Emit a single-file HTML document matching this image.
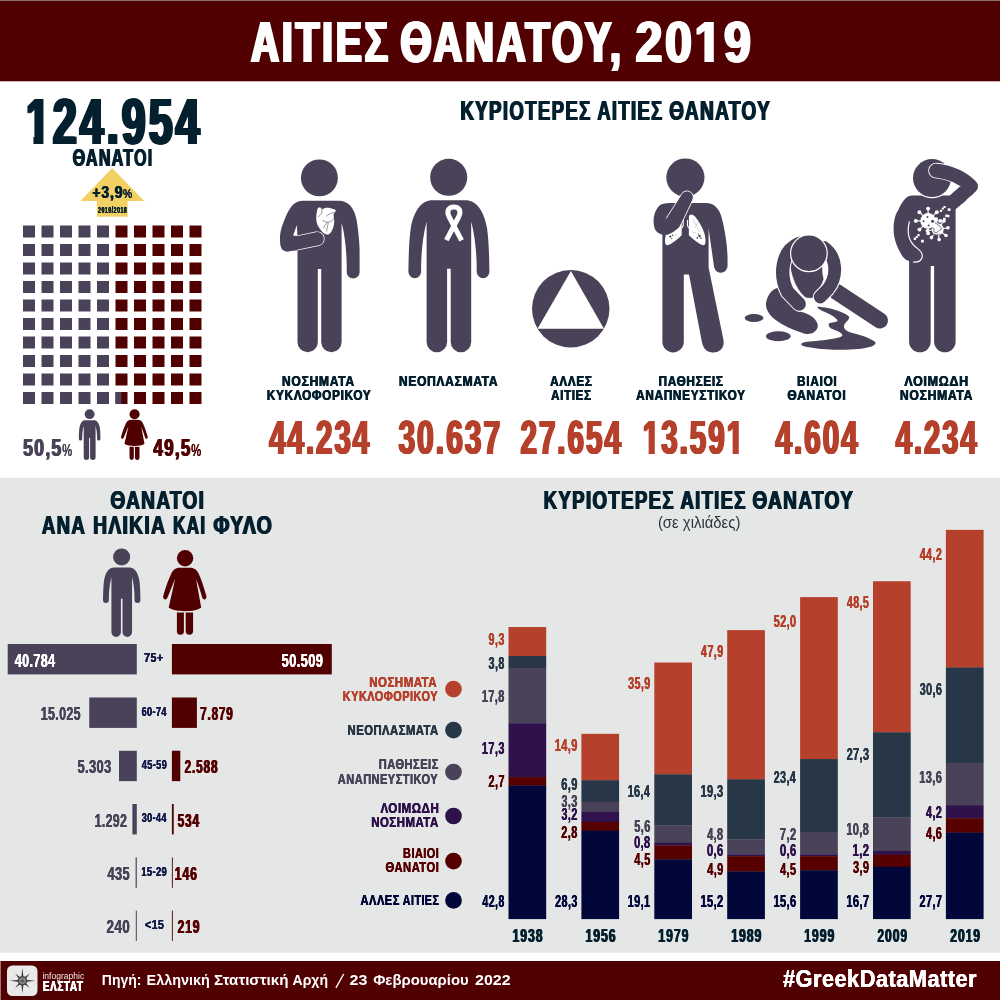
<!DOCTYPE html>
<html lang="el"><head><meta charset="utf-8"><title>ΑΙΤΙΕΣ ΘΑΝΑΤΟΥ, 2019</title>
<style>
html,body{margin:0;padding:0;background:#fff;}
body{width:1000px;height:1000px;overflow:hidden;font-family:"Liberation Sans",sans-serif;}
svg{display:block;font-family:"Liberation Sans",sans-serif;will-change:transform;}
</style></head><body>
<svg width="1000" height="1000" viewBox="0 0 1000 1000">
<rect x="0" y="0" width="1000" height="1000" fill="#fff"/>
<rect x="0" y="0" width="1000" height="81.3" fill="#500000"/>
<rect x="0" y="0" width="1000" height="1" fill="#8a6a6a"/>
<rect x="0" y="477.7" width="1000" height="475" fill="#e5e7e6"/>
<rect x="0" y="961" width="1000" height="39" fill="#500000"/>
<rect x="0" y="961" width="0.8" height="39" fill="#b59494"/>
<text transform="translate(249.62 61.60) scale(0.6877 1)" font-size="56.57" font-weight="bold" letter-spacing="4.113" fill="#fff">ΑΙΤΙΕΣ</text><text transform="translate(250.33 61.60) scale(0.6877 1)" font-size="56.57" font-weight="bold" letter-spacing="4.113" fill="#fff">ΑΙΤΙΕΣ</text><text transform="translate(251.04 61.60) scale(0.6877 1)" font-size="56.57" font-weight="bold" letter-spacing="4.113" fill="#fff">ΑΙΤΙΕΣ</text><text transform="translate(251.74 61.60) scale(0.6877 1)" font-size="56.57" font-weight="bold" letter-spacing="4.113" fill="#fff">ΑΙΤΙΕΣ</text><text transform="translate(252.45 61.60) scale(0.6877 1)" font-size="56.57" font-weight="bold" letter-spacing="4.113" fill="#fff">ΑΙΤΙΕΣ</text>
<text transform="translate(399.10 61.60) scale(0.7081 1)" font-size="56.57" font-weight="bold" letter-spacing="3.994" fill="#fff">ΘΑΝΑΤΟΥ,</text><text transform="translate(399.80 61.60) scale(0.7081 1)" font-size="56.57" font-weight="bold" letter-spacing="3.994" fill="#fff">ΘΑΝΑΤΟΥ,</text><text transform="translate(400.51 61.60) scale(0.7081 1)" font-size="56.57" font-weight="bold" letter-spacing="3.994" fill="#fff">ΘΑΝΑΤΟΥ,</text><text transform="translate(401.22 61.60) scale(0.7081 1)" font-size="56.57" font-weight="bold" letter-spacing="3.994" fill="#fff">ΘΑΝΑΤΟΥ,</text><text transform="translate(401.93 61.60) scale(0.7081 1)" font-size="56.57" font-weight="bold" letter-spacing="3.994" fill="#fff">ΘΑΝΑΤΟΥ,</text>
<text transform="translate(634.16 61.60) scale(0.8483 1)" font-size="56.57" font-weight="bold" letter-spacing="3.334" fill="#fff">2019</text><text transform="translate(634.87 61.60) scale(0.8483 1)" font-size="56.57" font-weight="bold" letter-spacing="3.334" fill="#fff">2019</text><text transform="translate(635.57 61.60) scale(0.8483 1)" font-size="56.57" font-weight="bold" letter-spacing="3.334" fill="#fff">2019</text><text transform="translate(636.28 61.60) scale(0.8483 1)" font-size="56.57" font-weight="bold" letter-spacing="3.334" fill="#fff">2019</text><text transform="translate(636.99 61.60) scale(0.8483 1)" font-size="56.57" font-weight="bold" letter-spacing="3.334" fill="#fff">2019</text>
<text transform="translate(459.79 119.60) scale(0.6939 1)" font-size="26.86" font-weight="bold" letter-spacing="1.935" fill="#04202f">ΚΥΡΙΟΤΕΡΕΣ</text><text transform="translate(460.46 119.60) scale(0.6939 1)" font-size="26.86" font-weight="bold" letter-spacing="1.935" fill="#04202f">ΚΥΡΙΟΤΕΡΕΣ</text><text transform="translate(461.13 119.60) scale(0.6939 1)" font-size="26.86" font-weight="bold" letter-spacing="1.935" fill="#04202f">ΚΥΡΙΟΤΕΡΕΣ</text>
<text transform="translate(596.63 119.60) scale(0.6807 1)" font-size="27.05" font-weight="bold" letter-spacing="1.987" fill="#04202f">ΑΙΤΙΕΣ</text><text transform="translate(597.31 119.60) scale(0.6807 1)" font-size="27.05" font-weight="bold" letter-spacing="1.987" fill="#04202f">ΑΙΤΙΕΣ</text><text transform="translate(597.98 119.60) scale(0.6807 1)" font-size="27.05" font-weight="bold" letter-spacing="1.987" fill="#04202f">ΑΙΤΙΕΣ</text>
<text transform="translate(668.43 119.60) scale(0.7125 1)" font-size="26.86" font-weight="bold" letter-spacing="1.885" fill="#04202f">ΘΑΝΑΤΟΥ</text><text transform="translate(669.11 119.60) scale(0.7125 1)" font-size="26.86" font-weight="bold" letter-spacing="1.885" fill="#04202f">ΘΑΝΑΤΟΥ</text><text transform="translate(669.78 119.60) scale(0.7125 1)" font-size="26.86" font-weight="bold" letter-spacing="1.885" fill="#04202f">ΘΑΝΑΤΟΥ</text>
<text transform="translate(24.45 144.00) scale(0.6466 1)" font-size="65.71" font-weight="bold" letter-spacing="5.081" fill="#04202f">124.954</text><text transform="translate(25.27 144.00) scale(0.6466 1)" font-size="65.71" font-weight="bold" letter-spacing="5.081" fill="#04202f">124.954</text><text transform="translate(26.09 144.00) scale(0.6466 1)" font-size="65.71" font-weight="bold" letter-spacing="5.081" fill="#04202f">124.954</text><text transform="translate(26.91 144.00) scale(0.6466 1)" font-size="65.71" font-weight="bold" letter-spacing="5.081" fill="#04202f">124.954</text><text transform="translate(27.74 144.00) scale(0.6466 1)" font-size="65.71" font-weight="bold" letter-spacing="5.081" fill="#04202f">124.954</text>
<text transform="translate(72.00 165.85) scale(0.6872 1)" font-size="23.57" font-weight="bold" letter-spacing="1.715" fill="#04202f">ΘΑΝΑΤΟΙ</text><text transform="translate(72.59 165.85) scale(0.6872 1)" font-size="23.57" font-weight="bold" letter-spacing="1.715" fill="#04202f">ΘΑΝΑΤΟΙ</text><text transform="translate(73.18 165.85) scale(0.6872 1)" font-size="23.57" font-weight="bold" letter-spacing="1.715" fill="#04202f">ΘΑΝΑΤΟΙ</text>
<path d="M112.25 168 L144.15 201 H127.65 V216.8 H96.85 V201 H80.35 Z" fill="#f3d063"/>
<text transform="translate(91.89 197.75) scale(0.8106 1)" font-size="17.29" font-weight="bold" letter-spacing="1.066" fill="#04202f">+3,9</text><text transform="translate(92.32 197.75) scale(0.8106 1)" font-size="17.29" font-weight="bold" letter-spacing="1.066" fill="#04202f">+3,9</text><text transform="translate(92.75 197.75) scale(0.8106 1)" font-size="17.29" font-weight="bold" letter-spacing="1.066" fill="#04202f">+3,9</text>
<text transform="translate(122.74 197.75) scale(0.8503 1)" font-size="12.07" letter-spacing="0.568" fill="#04202f">%</text><text transform="translate(122.98 197.75) scale(0.8503 1)" font-size="12.07" letter-spacing="0.568" fill="#04202f">%</text><text transform="translate(123.22 197.75) scale(0.8503 1)" font-size="12.07" letter-spacing="0.568" fill="#04202f">%</text>
<text transform="translate(97.79 213.15) scale(0.6226 1)" font-size="8.62" font-weight="bold" letter-spacing="0.692" fill="#04202f">2019/2018</text><text transform="translate(98.00 213.15) scale(0.6226 1)" font-size="8.62" font-weight="bold" letter-spacing="0.692" fill="#04202f">2019/2018</text><text transform="translate(98.22 213.15) scale(0.6226 1)" font-size="8.62" font-weight="bold" letter-spacing="0.692" fill="#04202f">2019/2018</text>
<rect x="23.0" y="225.5" width="12" height="12" fill="#4a4259"/>
<rect x="41.5" y="225.5" width="12" height="12" fill="#4a4259"/>
<rect x="60.0" y="225.5" width="12" height="12" fill="#4a4259"/>
<rect x="78.5" y="225.5" width="12" height="12" fill="#4a4259"/>
<rect x="97.0" y="225.5" width="12" height="12" fill="#4a4259"/>
<rect x="115.5" y="225.5" width="12" height="12" fill="#500000"/>
<rect x="134.0" y="225.5" width="12" height="12" fill="#500000"/>
<rect x="152.5" y="225.5" width="12" height="12" fill="#500000"/>
<rect x="171.0" y="225.5" width="12" height="12" fill="#500000"/>
<rect x="189.5" y="225.5" width="12" height="12" fill="#500000"/>
<rect x="23.0" y="244.0" width="12" height="12" fill="#4a4259"/>
<rect x="41.5" y="244.0" width="12" height="12" fill="#4a4259"/>
<rect x="60.0" y="244.0" width="12" height="12" fill="#4a4259"/>
<rect x="78.5" y="244.0" width="12" height="12" fill="#4a4259"/>
<rect x="97.0" y="244.0" width="12" height="12" fill="#4a4259"/>
<rect x="115.5" y="244.0" width="12" height="12" fill="#500000"/>
<rect x="134.0" y="244.0" width="12" height="12" fill="#500000"/>
<rect x="152.5" y="244.0" width="12" height="12" fill="#500000"/>
<rect x="171.0" y="244.0" width="12" height="12" fill="#500000"/>
<rect x="189.5" y="244.0" width="12" height="12" fill="#500000"/>
<rect x="23.0" y="262.5" width="12" height="12" fill="#4a4259"/>
<rect x="41.5" y="262.5" width="12" height="12" fill="#4a4259"/>
<rect x="60.0" y="262.5" width="12" height="12" fill="#4a4259"/>
<rect x="78.5" y="262.5" width="12" height="12" fill="#4a4259"/>
<rect x="97.0" y="262.5" width="12" height="12" fill="#4a4259"/>
<rect x="115.5" y="262.5" width="12" height="12" fill="#500000"/>
<rect x="134.0" y="262.5" width="12" height="12" fill="#500000"/>
<rect x="152.5" y="262.5" width="12" height="12" fill="#500000"/>
<rect x="171.0" y="262.5" width="12" height="12" fill="#500000"/>
<rect x="189.5" y="262.5" width="12" height="12" fill="#500000"/>
<rect x="23.0" y="281.0" width="12" height="12" fill="#4a4259"/>
<rect x="41.5" y="281.0" width="12" height="12" fill="#4a4259"/>
<rect x="60.0" y="281.0" width="12" height="12" fill="#4a4259"/>
<rect x="78.5" y="281.0" width="12" height="12" fill="#4a4259"/>
<rect x="97.0" y="281.0" width="12" height="12" fill="#4a4259"/>
<rect x="115.5" y="281.0" width="12" height="12" fill="#500000"/>
<rect x="134.0" y="281.0" width="12" height="12" fill="#500000"/>
<rect x="152.5" y="281.0" width="12" height="12" fill="#500000"/>
<rect x="171.0" y="281.0" width="12" height="12" fill="#500000"/>
<rect x="189.5" y="281.0" width="12" height="12" fill="#500000"/>
<rect x="23.0" y="299.5" width="12" height="12" fill="#4a4259"/>
<rect x="41.5" y="299.5" width="12" height="12" fill="#4a4259"/>
<rect x="60.0" y="299.5" width="12" height="12" fill="#4a4259"/>
<rect x="78.5" y="299.5" width="12" height="12" fill="#4a4259"/>
<rect x="97.0" y="299.5" width="12" height="12" fill="#4a4259"/>
<rect x="115.5" y="299.5" width="12" height="12" fill="#500000"/>
<rect x="134.0" y="299.5" width="12" height="12" fill="#500000"/>
<rect x="152.5" y="299.5" width="12" height="12" fill="#500000"/>
<rect x="171.0" y="299.5" width="12" height="12" fill="#500000"/>
<rect x="189.5" y="299.5" width="12" height="12" fill="#500000"/>
<rect x="23.0" y="318.0" width="12" height="12" fill="#4a4259"/>
<rect x="41.5" y="318.0" width="12" height="12" fill="#4a4259"/>
<rect x="60.0" y="318.0" width="12" height="12" fill="#4a4259"/>
<rect x="78.5" y="318.0" width="12" height="12" fill="#4a4259"/>
<rect x="97.0" y="318.0" width="12" height="12" fill="#4a4259"/>
<rect x="115.5" y="318.0" width="12" height="12" fill="#500000"/>
<rect x="134.0" y="318.0" width="12" height="12" fill="#500000"/>
<rect x="152.5" y="318.0" width="12" height="12" fill="#500000"/>
<rect x="171.0" y="318.0" width="12" height="12" fill="#500000"/>
<rect x="189.5" y="318.0" width="12" height="12" fill="#500000"/>
<rect x="23.0" y="336.5" width="12" height="12" fill="#4a4259"/>
<rect x="41.5" y="336.5" width="12" height="12" fill="#4a4259"/>
<rect x="60.0" y="336.5" width="12" height="12" fill="#4a4259"/>
<rect x="78.5" y="336.5" width="12" height="12" fill="#4a4259"/>
<rect x="97.0" y="336.5" width="12" height="12" fill="#4a4259"/>
<rect x="115.5" y="336.5" width="12" height="12" fill="#500000"/>
<rect x="134.0" y="336.5" width="12" height="12" fill="#500000"/>
<rect x="152.5" y="336.5" width="12" height="12" fill="#500000"/>
<rect x="171.0" y="336.5" width="12" height="12" fill="#500000"/>
<rect x="189.5" y="336.5" width="12" height="12" fill="#500000"/>
<rect x="23.0" y="355.0" width="12" height="12" fill="#4a4259"/>
<rect x="41.5" y="355.0" width="12" height="12" fill="#4a4259"/>
<rect x="60.0" y="355.0" width="12" height="12" fill="#4a4259"/>
<rect x="78.5" y="355.0" width="12" height="12" fill="#4a4259"/>
<rect x="97.0" y="355.0" width="12" height="12" fill="#4a4259"/>
<rect x="115.5" y="355.0" width="12" height="12" fill="#500000"/>
<rect x="134.0" y="355.0" width="12" height="12" fill="#500000"/>
<rect x="152.5" y="355.0" width="12" height="12" fill="#500000"/>
<rect x="171.0" y="355.0" width="12" height="12" fill="#500000"/>
<rect x="189.5" y="355.0" width="12" height="12" fill="#500000"/>
<rect x="23.0" y="373.5" width="12" height="12" fill="#4a4259"/>
<rect x="41.5" y="373.5" width="12" height="12" fill="#4a4259"/>
<rect x="60.0" y="373.5" width="12" height="12" fill="#4a4259"/>
<rect x="78.5" y="373.5" width="12" height="12" fill="#4a4259"/>
<rect x="97.0" y="373.5" width="12" height="12" fill="#4a4259"/>
<rect x="115.5" y="373.5" width="12" height="12" fill="#500000"/>
<rect x="134.0" y="373.5" width="12" height="12" fill="#500000"/>
<rect x="152.5" y="373.5" width="12" height="12" fill="#500000"/>
<rect x="171.0" y="373.5" width="12" height="12" fill="#500000"/>
<rect x="189.5" y="373.5" width="12" height="12" fill="#500000"/>
<rect x="23.0" y="392.0" width="12" height="12" fill="#4a4259"/>
<rect x="41.5" y="392.0" width="12" height="12" fill="#4a4259"/>
<rect x="60.0" y="392.0" width="12" height="12" fill="#4a4259"/>
<rect x="78.5" y="392.0" width="12" height="12" fill="#4a4259"/>
<rect x="97.0" y="392.0" width="12" height="12" fill="#4a4259"/>
<rect x="115.5" y="392.0" width="12" height="12" fill="#500000"/>
<rect x="134.0" y="392.0" width="12" height="12" fill="#500000"/>
<rect x="152.5" y="392.0" width="12" height="12" fill="#500000"/>
<rect x="171.0" y="392.0" width="12" height="12" fill="#500000"/>
<rect x="189.5" y="392.0" width="12" height="12" fill="#500000"/>
<rect x="115.5" y="392" width="5.8" height="12" fill="#4a4259"/>
<text transform="translate(22.47 456.00) scale(0.7329 1)" font-size="24.29" font-weight="bold" letter-spacing="1.657" fill="#4a4259">50,5</text><text transform="translate(23.07 456.00) scale(0.7329 1)" font-size="24.29" font-weight="bold" letter-spacing="1.657" fill="#4a4259">50,5</text><text transform="translate(23.68 456.00) scale(0.7329 1)" font-size="24.29" font-weight="bold" letter-spacing="1.657" fill="#4a4259">50,5</text>
<text transform="translate(61.91 456.00) scale(0.6474 1)" font-size="17.14" letter-spacing="0.927" fill="#4a4259">%</text><text transform="translate(62.21 456.00) scale(0.6474 1)" font-size="17.14" letter-spacing="0.927" fill="#4a4259">%</text><text transform="translate(62.51 456.00) scale(0.6474 1)" font-size="17.14" letter-spacing="0.927" fill="#4a4259">%</text>
<text transform="translate(152.74 456.00) scale(0.7055 1)" font-size="24.29" font-weight="bold" letter-spacing="1.721" fill="#500000">49,5</text><text transform="translate(153.35 456.00) scale(0.7055 1)" font-size="24.29" font-weight="bold" letter-spacing="1.721" fill="#500000">49,5</text><text transform="translate(153.96 456.00) scale(0.7055 1)" font-size="24.29" font-weight="bold" letter-spacing="1.721" fill="#500000">49,5</text>
<text transform="translate(190.91 456.00) scale(0.6474 1)" font-size="17.14" letter-spacing="0.927" fill="#500000">%</text><text transform="translate(191.21 456.00) scale(0.6474 1)" font-size="17.14" letter-spacing="0.927" fill="#500000">%</text><text transform="translate(191.51 456.00) scale(0.6474 1)" font-size="17.14" letter-spacing="0.927" fill="#500000">%</text>
<text transform="translate(281.61 386.00) scale(0.8295 1)" font-size="14.57" font-weight="bold" letter-spacing="0.878" fill="#04202f">ΝΟΣΗΜΑΤΑ</text><text transform="translate(281.98 386.00) scale(0.8295 1)" font-size="14.57" font-weight="bold" letter-spacing="0.878" fill="#04202f">ΝΟΣΗΜΑΤΑ</text><text transform="translate(282.34 386.00) scale(0.8295 1)" font-size="14.57" font-weight="bold" letter-spacing="0.878" fill="#04202f">ΝΟΣΗΜΑΤΑ</text>
<text transform="translate(266.44 400.30) scale(0.7979 1)" font-size="14.71" font-weight="bold" letter-spacing="0.922" fill="#04202f">ΚΥΚΛΟΦΟΡΙΚΟΥ</text><text transform="translate(266.80 400.30) scale(0.7979 1)" font-size="14.71" font-weight="bold" letter-spacing="0.922" fill="#04202f">ΚΥΚΛΟΦΟΡΙΚΟΥ</text><text transform="translate(267.17 400.30) scale(0.7979 1)" font-size="14.71" font-weight="bold" letter-spacing="0.922" fill="#04202f">ΚΥΚΛΟΦΟΡΙΚΟΥ</text>
<text transform="translate(398.52 386.00) scale(0.8246 1)" font-size="14.57" font-weight="bold" letter-spacing="0.884" fill="#04202f">ΝΕΟΠΛΑΣΜΑΤΑ</text><text transform="translate(398.88 386.00) scale(0.8246 1)" font-size="14.57" font-weight="bold" letter-spacing="0.884" fill="#04202f">ΝΕΟΠΛΑΣΜΑΤΑ</text><text transform="translate(399.25 386.00) scale(0.8246 1)" font-size="14.57" font-weight="bold" letter-spacing="0.884" fill="#04202f">ΝΕΟΠΛΑΣΜΑΤΑ</text>
<text transform="translate(549.77 386.00) scale(0.7916 1)" font-size="14.78" font-weight="bold" letter-spacing="0.934" fill="#04202f">ΑΛΛΕΣ</text><text transform="translate(550.14 386.00) scale(0.7916 1)" font-size="14.78" font-weight="bold" letter-spacing="0.934" fill="#04202f">ΑΛΛΕΣ</text><text transform="translate(550.51 386.00) scale(0.7916 1)" font-size="14.78" font-weight="bold" letter-spacing="0.934" fill="#04202f">ΑΛΛΕΣ</text>
<text transform="translate(550.77 400.30) scale(0.7725 1)" font-size="14.82" font-weight="bold" letter-spacing="0.959" fill="#04202f">ΑΙΤΙΕΣ</text><text transform="translate(551.14 400.30) scale(0.7725 1)" font-size="14.82" font-weight="bold" letter-spacing="0.959" fill="#04202f">ΑΙΤΙΕΣ</text><text transform="translate(551.51 400.30) scale(0.7725 1)" font-size="14.82" font-weight="bold" letter-spacing="0.959" fill="#04202f">ΑΙΤΙΕΣ</text>
<text transform="translate(658.24 386.00) scale(0.8037 1)" font-size="14.57" font-weight="bold" letter-spacing="0.907" fill="#04202f">ΠΑΘΗΣΕΙΣ</text><text transform="translate(658.60 386.00) scale(0.8037 1)" font-size="14.57" font-weight="bold" letter-spacing="0.907" fill="#04202f">ΠΑΘΗΣΕΙΣ</text><text transform="translate(658.97 386.00) scale(0.8037 1)" font-size="14.57" font-weight="bold" letter-spacing="0.907" fill="#04202f">ΠΑΘΗΣΕΙΣ</text>
<text transform="translate(635.76 400.30) scale(0.7987 1)" font-size="14.71" font-weight="bold" letter-spacing="0.921" fill="#04202f">ΑΝΑΠΝΕΥΣΤΙΚΟΥ</text><text transform="translate(636.13 400.30) scale(0.7987 1)" font-size="14.71" font-weight="bold" letter-spacing="0.921" fill="#04202f">ΑΝΑΠΝΕΥΣΤΙΚΟΥ</text><text transform="translate(636.50 400.30) scale(0.7987 1)" font-size="14.71" font-weight="bold" letter-spacing="0.921" fill="#04202f">ΑΝΑΠΝΕΥΣΤΙΚΟΥ</text>
<text transform="translate(796.63 386.00) scale(0.8117 1)" font-size="14.57" font-weight="bold" letter-spacing="0.898" fill="#04202f">ΒΙΑΙΟΙ</text><text transform="translate(797.00 386.00) scale(0.8117 1)" font-size="14.57" font-weight="bold" letter-spacing="0.898" fill="#04202f">ΒΙΑΙΟΙ</text><text transform="translate(797.36 386.00) scale(0.8117 1)" font-size="14.57" font-weight="bold" letter-spacing="0.898" fill="#04202f">ΒΙΑΙΟΙ</text>
<text transform="translate(786.92 400.30) scale(0.8185 1)" font-size="14.71" font-weight="bold" letter-spacing="0.899" fill="#04202f">ΘΑΝΑΤΟΙ</text><text transform="translate(787.29 400.30) scale(0.8185 1)" font-size="14.71" font-weight="bold" letter-spacing="0.899" fill="#04202f">ΘΑΝΑΤΟΙ</text><text transform="translate(787.65 400.30) scale(0.8185 1)" font-size="14.71" font-weight="bold" letter-spacing="0.899" fill="#04202f">ΘΑΝΑΤΟΙ</text>
<text transform="translate(903.94 386.00) scale(0.8572 1)" font-size="14.57" font-weight="bold" letter-spacing="0.850" fill="#04202f">ΛΟΙΜΩΔΗ</text><text transform="translate(904.30 386.00) scale(0.8572 1)" font-size="14.57" font-weight="bold" letter-spacing="0.850" fill="#04202f">ΛΟΙΜΩΔΗ</text><text transform="translate(904.67 386.00) scale(0.8572 1)" font-size="14.57" font-weight="bold" letter-spacing="0.850" fill="#04202f">ΛΟΙΜΩΔΗ</text>
<text transform="translate(899.61 400.30) scale(0.8245 1)" font-size="14.71" font-weight="bold" letter-spacing="0.892" fill="#04202f">ΝΟΣΗΜΑΤΑ</text><text transform="translate(899.98 400.30) scale(0.8245 1)" font-size="14.71" font-weight="bold" letter-spacing="0.892" fill="#04202f">ΝΟΣΗΜΑΤΑ</text><text transform="translate(900.35 400.30) scale(0.8245 1)" font-size="14.71" font-weight="bold" letter-spacing="0.892" fill="#04202f">ΝΟΣΗΜΑΤΑ</text>
<text transform="translate(268.16 453.90) scale(0.6150 1)" font-size="47.86" font-weight="bold" letter-spacing="3.268" fill="#b5402b">44.234</text><text transform="translate(268.66 453.90) scale(0.6150 1)" font-size="47.86" font-weight="bold" letter-spacing="3.268" fill="#b5402b">44.234</text><text transform="translate(269.16 453.90) scale(0.6150 1)" font-size="47.86" font-weight="bold" letter-spacing="3.268" fill="#b5402b">44.234</text><text transform="translate(269.67 453.90) scale(0.6150 1)" font-size="47.86" font-weight="bold" letter-spacing="3.268" fill="#b5402b">44.234</text><text transform="translate(270.17 453.90) scale(0.6150 1)" font-size="47.86" font-weight="bold" letter-spacing="3.268" fill="#b5402b">44.234</text>
<text transform="translate(397.40 453.90) scale(0.6270 1)" font-size="47.86" font-weight="bold" letter-spacing="3.206" fill="#b5402b">30.637</text><text transform="translate(397.90 453.90) scale(0.6270 1)" font-size="47.86" font-weight="bold" letter-spacing="3.206" fill="#b5402b">30.637</text><text transform="translate(398.40 453.90) scale(0.6270 1)" font-size="47.86" font-weight="bold" letter-spacing="3.206" fill="#b5402b">30.637</text><text transform="translate(398.91 453.90) scale(0.6270 1)" font-size="47.86" font-weight="bold" letter-spacing="3.206" fill="#b5402b">30.637</text><text transform="translate(399.41 453.90) scale(0.6270 1)" font-size="47.86" font-weight="bold" letter-spacing="3.206" fill="#b5402b">30.637</text>
<text transform="translate(519.41 453.90) scale(0.6187 1)" font-size="47.86" font-weight="bold" letter-spacing="3.249" fill="#b5402b">27.654</text><text transform="translate(519.91 453.90) scale(0.6187 1)" font-size="47.86" font-weight="bold" letter-spacing="3.249" fill="#b5402b">27.654</text><text transform="translate(520.42 453.90) scale(0.6187 1)" font-size="47.86" font-weight="bold" letter-spacing="3.249" fill="#b5402b">27.654</text><text transform="translate(520.92 453.90) scale(0.6187 1)" font-size="47.86" font-weight="bold" letter-spacing="3.249" fill="#b5402b">27.654</text><text transform="translate(521.42 453.90) scale(0.6187 1)" font-size="47.86" font-weight="bold" letter-spacing="3.249" fill="#b5402b">27.654</text>
<text transform="translate(641.73 453.90) scale(0.6175 1)" font-size="47.86" font-weight="bold" letter-spacing="3.255" fill="#b5402b">13.591</text><text transform="translate(642.23 453.90) scale(0.6175 1)" font-size="47.86" font-weight="bold" letter-spacing="3.255" fill="#b5402b">13.591</text><text transform="translate(642.73 453.90) scale(0.6175 1)" font-size="47.86" font-weight="bold" letter-spacing="3.255" fill="#b5402b">13.591</text><text transform="translate(643.23 453.90) scale(0.6175 1)" font-size="47.86" font-weight="bold" letter-spacing="3.255" fill="#b5402b">13.591</text><text transform="translate(643.74 453.90) scale(0.6175 1)" font-size="47.86" font-weight="bold" letter-spacing="3.255" fill="#b5402b">13.591</text>
<text transform="translate(774.56 453.90) scale(0.6181 1)" font-size="47.86" font-weight="bold" letter-spacing="3.252" fill="#b5402b">4.604</text><text transform="translate(775.06 453.90) scale(0.6181 1)" font-size="47.86" font-weight="bold" letter-spacing="3.252" fill="#b5402b">4.604</text><text transform="translate(775.56 453.90) scale(0.6181 1)" font-size="47.86" font-weight="bold" letter-spacing="3.252" fill="#b5402b">4.604</text><text transform="translate(776.06 453.90) scale(0.6181 1)" font-size="47.86" font-weight="bold" letter-spacing="3.252" fill="#b5402b">4.604</text><text transform="translate(776.57 453.90) scale(0.6181 1)" font-size="47.86" font-weight="bold" letter-spacing="3.252" fill="#b5402b">4.604</text>
<text transform="translate(894.76 453.90) scale(0.6081 1)" font-size="47.86" font-weight="bold" letter-spacing="3.306" fill="#b5402b">4.234</text><text transform="translate(895.27 453.90) scale(0.6081 1)" font-size="47.86" font-weight="bold" letter-spacing="3.306" fill="#b5402b">4.234</text><text transform="translate(895.77 453.90) scale(0.6081 1)" font-size="47.86" font-weight="bold" letter-spacing="3.306" fill="#b5402b">4.234</text><text transform="translate(896.27 453.90) scale(0.6081 1)" font-size="47.86" font-weight="bold" letter-spacing="3.306" fill="#b5402b">4.234</text><text transform="translate(896.77 453.90) scale(0.6081 1)" font-size="47.86" font-weight="bold" letter-spacing="3.306" fill="#b5402b">4.234</text>
<text transform="translate(109.83 509.40) scale(0.7580 1)" font-size="25.29" font-weight="bold" letter-spacing="1.668" fill="#04202f">ΘΑΝΑΤΟΙ</text><text transform="translate(110.47 509.40) scale(0.7580 1)" font-size="25.29" font-weight="bold" letter-spacing="1.668" fill="#04202f">ΘΑΝΑΤΟΙ</text><text transform="translate(111.10 509.40) scale(0.7580 1)" font-size="25.29" font-weight="bold" letter-spacing="1.668" fill="#04202f">ΘΑΝΑΤΟΙ</text>
<text transform="translate(41.33 534.10) scale(0.7316 1)" font-size="25.47" font-weight="bold" letter-spacing="1.741" fill="#04202f">ΑΝΑ</text><text transform="translate(41.96 534.10) scale(0.7316 1)" font-size="25.47" font-weight="bold" letter-spacing="1.741" fill="#04202f">ΑΝΑ</text><text transform="translate(42.60 534.10) scale(0.7316 1)" font-size="25.47" font-weight="bold" letter-spacing="1.741" fill="#04202f">ΑΝΑ</text>
<text transform="translate(92.44 534.10) scale(0.7594 1)" font-size="25.47" font-weight="bold" letter-spacing="1.677" fill="#04202f">ΗΛΙΚΙΑ</text><text transform="translate(93.08 534.10) scale(0.7594 1)" font-size="25.47" font-weight="bold" letter-spacing="1.677" fill="#04202f">ΗΛΙΚΙΑ</text><text transform="translate(93.72 534.10) scale(0.7594 1)" font-size="25.47" font-weight="bold" letter-spacing="1.677" fill="#04202f">ΗΛΙΚΙΑ</text>
<text transform="translate(172.38 534.10) scale(0.6743 1)" font-size="25.47" font-weight="bold" letter-spacing="1.888" fill="#04202f">ΚΑΙ</text><text transform="translate(173.02 534.10) scale(0.6743 1)" font-size="25.47" font-weight="bold" letter-spacing="1.888" fill="#04202f">ΚΑΙ</text><text transform="translate(173.66 534.10) scale(0.6743 1)" font-size="25.47" font-weight="bold" letter-spacing="1.888" fill="#04202f">ΚΑΙ</text>
<text transform="translate(212.71 534.10) scale(0.7773 1)" font-size="25.29" font-weight="bold" letter-spacing="1.627" fill="#04202f">ΦΥΛΟ</text><text transform="translate(213.34 534.10) scale(0.7773 1)" font-size="25.29" font-weight="bold" letter-spacing="1.627" fill="#04202f">ΦΥΛΟ</text><text transform="translate(213.97 534.10) scale(0.7773 1)" font-size="25.29" font-weight="bold" letter-spacing="1.627" fill="#04202f">ΦΥΛΟ</text>
<rect x="7.70" y="644" width="129.10" height="30.4" fill="#4a4259"/>
<rect x="171.9" y="644" width="159.90" height="30.4" fill="#500000"/>
<text transform="translate(143.76 662.30) scale(0.8992 1)" font-size="12.17" font-weight="bold" letter-spacing="0.406" fill="#14184a">75+</text><text transform="translate(143.94 662.30) scale(0.8992 1)" font-size="12.17" font-weight="bold" letter-spacing="0.406" fill="#14184a">75+</text><text transform="translate(144.13 662.30) scale(0.8992 1)" font-size="12.17" font-weight="bold" letter-spacing="0.406" fill="#14184a">75+</text>
<text transform="translate(14.51 666.70) scale(0.6819 1)" font-size="18.50" font-weight="bold" letter-spacing="0.543" fill="#fff">40.784</text><text transform="translate(14.70 666.70) scale(0.6819 1)" font-size="18.50" font-weight="bold" letter-spacing="0.543" fill="#fff">40.784</text><text transform="translate(14.88 666.70) scale(0.6819 1)" font-size="18.50" font-weight="bold" letter-spacing="0.543" fill="#fff">40.784</text>
<text transform="translate(281.41 666.70) scale(0.6987 1)" font-size="18.50" font-weight="bold" letter-spacing="0.530" fill="#fff">50.509</text><text transform="translate(281.60 666.70) scale(0.6987 1)" font-size="18.50" font-weight="bold" letter-spacing="0.530" fill="#fff">50.509</text><text transform="translate(281.78 666.70) scale(0.6987 1)" font-size="18.50" font-weight="bold" letter-spacing="0.530" fill="#fff">50.509</text>
<rect x="89.25" y="697.5" width="47.55" height="30.4" fill="#4a4259"/>
<rect x="171.9" y="697.5" width="25.00" height="30.4" fill="#500000"/>
<text transform="translate(141.43 715.80) scale(0.7618 1)" font-size="12.00" font-weight="bold" letter-spacing="0.473" fill="#14184a">60-74</text><text transform="translate(141.61 715.80) scale(0.7618 1)" font-size="12.00" font-weight="bold" letter-spacing="0.473" fill="#14184a">60-74</text><text transform="translate(141.79 715.80) scale(0.7618 1)" font-size="12.00" font-weight="bold" letter-spacing="0.473" fill="#14184a">60-74</text>
<text transform="translate(40.55 720.20) scale(0.6725 1)" font-size="18.50" font-weight="bold" letter-spacing="0.550" fill="#4a4259">15.025</text><text transform="translate(40.74 720.20) scale(0.6725 1)" font-size="18.50" font-weight="bold" letter-spacing="0.550" fill="#4a4259">15.025</text><text transform="translate(40.92 720.20) scale(0.6725 1)" font-size="18.50" font-weight="bold" letter-spacing="0.550" fill="#4a4259">15.025</text>
<text transform="translate(199.73 720.20) scale(0.6324 1)" font-size="18.50" font-weight="bold" letter-spacing="1.316" fill="#560000">7.879</text><text transform="translate(200.15 720.20) scale(0.6324 1)" font-size="18.50" font-weight="bold" letter-spacing="1.316" fill="#560000">7.879</text><text transform="translate(200.56 720.20) scale(0.6324 1)" font-size="18.50" font-weight="bold" letter-spacing="1.316" fill="#560000">7.879</text>
<rect x="119.00" y="750.75" width="17.80" height="30.4" fill="#4a4259"/>
<rect x="171.9" y="750.75" width="8.40" height="30.4" fill="#500000"/>
<text transform="translate(141.61 769.05) scale(0.7664 1)" font-size="12.00" font-weight="bold" letter-spacing="0.470" fill="#14184a">45-59</text><text transform="translate(141.79 769.05) scale(0.7664 1)" font-size="12.00" font-weight="bold" letter-spacing="0.470" fill="#14184a">45-59</text><text transform="translate(141.97 769.05) scale(0.7664 1)" font-size="12.00" font-weight="bold" letter-spacing="0.470" fill="#14184a">45-59</text>
<text transform="translate(77.31 773.45) scale(0.6978 1)" font-size="18.50" font-weight="bold" letter-spacing="0.530" fill="#4a4259">5.303</text><text transform="translate(77.50 773.45) scale(0.6978 1)" font-size="18.50" font-weight="bold" letter-spacing="0.530" fill="#4a4259">5.303</text><text transform="translate(77.68 773.45) scale(0.6978 1)" font-size="18.50" font-weight="bold" letter-spacing="0.530" fill="#4a4259">5.303</text>
<text transform="translate(184.14 773.45) scale(0.6416 1)" font-size="18.50" font-weight="bold" letter-spacing="1.297" fill="#560000">2.588</text><text transform="translate(184.56 773.45) scale(0.6416 1)" font-size="18.50" font-weight="bold" letter-spacing="1.297" fill="#560000">2.588</text><text transform="translate(184.98 773.45) scale(0.6416 1)" font-size="18.50" font-weight="bold" letter-spacing="1.297" fill="#560000">2.588</text>
<rect x="132.40" y="804" width="4.40" height="30.4" fill="#4a4259"/>
<rect x="171.9" y="804" width="1.80" height="30.4" fill="#500000"/>
<text transform="translate(141.57 822.30) scale(0.7573 1)" font-size="12.00" font-weight="bold" letter-spacing="0.475" fill="#14184a">30-44</text><text transform="translate(141.75 822.30) scale(0.7573 1)" font-size="12.00" font-weight="bold" letter-spacing="0.475" fill="#14184a">30-44</text><text transform="translate(141.93 822.30) scale(0.7573 1)" font-size="12.00" font-weight="bold" letter-spacing="0.475" fill="#14184a">30-44</text>
<text transform="translate(94.46 826.70) scale(0.6660 1)" font-size="18.50" font-weight="bold" letter-spacing="0.556" fill="#4a4259">1.292</text><text transform="translate(94.65 826.70) scale(0.6660 1)" font-size="18.50" font-weight="bold" letter-spacing="0.556" fill="#4a4259">1.292</text><text transform="translate(94.83 826.70) scale(0.6660 1)" font-size="18.50" font-weight="bold" letter-spacing="0.556" fill="#4a4259">1.292</text>
<text transform="translate(177.14 826.70) scale(0.6439 1)" font-size="18.50" font-weight="bold" letter-spacing="1.293" fill="#560000">534</text><text transform="translate(177.56 826.70) scale(0.6439 1)" font-size="18.50" font-weight="bold" letter-spacing="1.293" fill="#560000">534</text><text transform="translate(177.98 826.70) scale(0.6439 1)" font-size="18.50" font-weight="bold" letter-spacing="1.293" fill="#560000">534</text>
<rect x="135.60" y="857.4" width="1.20" height="30.4" fill="#4a4259"/>
<rect x="171.9" y="857.4" width="0.90" height="30.4" fill="#500000"/>
<text transform="translate(141.19 875.70) scale(0.7804 1)" font-size="12.00" font-weight="bold" letter-spacing="0.461" fill="#14184a">15-29</text><text transform="translate(141.37 875.70) scale(0.7804 1)" font-size="12.00" font-weight="bold" letter-spacing="0.461" fill="#14184a">15-29</text><text transform="translate(141.55 875.70) scale(0.7804 1)" font-size="12.00" font-weight="bold" letter-spacing="0.461" fill="#14184a">15-29</text>
<text transform="translate(107.31 880.10) scale(0.6939 1)" font-size="18.50" font-weight="bold" letter-spacing="0.533" fill="#4a4259">435</text><text transform="translate(107.49 880.10) scale(0.6939 1)" font-size="18.50" font-weight="bold" letter-spacing="0.533" fill="#4a4259">435</text><text transform="translate(107.68 880.10) scale(0.6939 1)" font-size="18.50" font-weight="bold" letter-spacing="0.533" fill="#4a4259">435</text>
<text transform="translate(174.26 880.10) scale(0.6705 1)" font-size="18.50" font-weight="bold" letter-spacing="1.242" fill="#560000">146</text><text transform="translate(174.67 880.10) scale(0.6705 1)" font-size="18.50" font-weight="bold" letter-spacing="1.242" fill="#560000">146</text><text transform="translate(175.09 880.10) scale(0.6705 1)" font-size="18.50" font-weight="bold" letter-spacing="1.242" fill="#560000">146</text>
<rect x="135.80" y="910.6" width="1.00" height="30.4" fill="#4a4259"/>
<rect x="171.9" y="910.6" width="0.90" height="30.4" fill="#500000"/>
<text transform="translate(144.82 928.90) scale(0.8795 1)" font-size="12.17" font-weight="bold" letter-spacing="0.415" fill="#14184a">&lt;15</text><text transform="translate(145.00 928.90) scale(0.8795 1)" font-size="12.17" font-weight="bold" letter-spacing="0.415" fill="#14184a">&lt;15</text><text transform="translate(145.19 928.90) scale(0.8795 1)" font-size="12.17" font-weight="bold" letter-spacing="0.415" fill="#14184a">&lt;15</text>
<text transform="translate(106.34 933.30) scale(0.7300 1)" font-size="18.50" font-weight="bold" letter-spacing="0.507" fill="#4a4259">240</text><text transform="translate(106.53 933.30) scale(0.7300 1)" font-size="18.50" font-weight="bold" letter-spacing="0.507" fill="#4a4259">240</text><text transform="translate(106.71 933.30) scale(0.7300 1)" font-size="18.50" font-weight="bold" letter-spacing="0.507" fill="#4a4259">240</text>
<text transform="translate(177.13 933.30) scale(0.6579 1)" font-size="18.50" font-weight="bold" letter-spacing="1.265" fill="#560000">219</text><text transform="translate(177.55 933.30) scale(0.6579 1)" font-size="18.50" font-weight="bold" letter-spacing="1.265" fill="#560000">219</text><text transform="translate(177.97 933.30) scale(0.6579 1)" font-size="18.50" font-weight="bold" letter-spacing="1.265" fill="#560000">219</text>
<text transform="translate(542.98 508.90) scale(0.7150 1)" font-size="26.14" font-weight="bold" letter-spacing="1.828" fill="#04202f">ΚΥΡΙΟΤΕΡΕΣ</text><text transform="translate(543.64 508.90) scale(0.7150 1)" font-size="26.14" font-weight="bold" letter-spacing="1.828" fill="#04202f">ΚΥΡΙΟΤΕΡΕΣ</text><text transform="translate(544.29 508.90) scale(0.7150 1)" font-size="26.14" font-weight="bold" letter-spacing="1.828" fill="#04202f">ΚΥΡΙΟΤΕΡΕΣ</text>
<text transform="translate(679.83 508.90) scale(0.7019 1)" font-size="26.33" font-weight="bold" letter-spacing="1.876" fill="#04202f">ΑΙΤΙΕΣ</text><text transform="translate(680.49 508.90) scale(0.7019 1)" font-size="26.33" font-weight="bold" letter-spacing="1.876" fill="#04202f">ΑΙΤΙΕΣ</text><text transform="translate(681.15 508.90) scale(0.7019 1)" font-size="26.33" font-weight="bold" letter-spacing="1.876" fill="#04202f">ΑΙΤΙΕΣ</text>
<text transform="translate(751.63 508.90) scale(0.7339 1)" font-size="26.14" font-weight="bold" letter-spacing="1.781" fill="#04202f">ΘΑΝΑΤΟΥ</text><text transform="translate(752.29 508.90) scale(0.7339 1)" font-size="26.14" font-weight="bold" letter-spacing="1.781" fill="#04202f">ΘΑΝΑΤΟΥ</text><text transform="translate(752.94 508.90) scale(0.7339 1)" font-size="26.14" font-weight="bold" letter-spacing="1.781" fill="#04202f">ΘΑΝΑΤΟΥ</text>
<text transform="translate(657.91 528.40) scale(0.8993 1)" font-size="16.58" fill="#2a3540">(σε χιλιάδες)</text>
<rect x="508.50" y="627.02" width="37.7" height="29.26" fill="#b5402b"/>
<rect x="508.50" y="655.98" width="37.7" height="12.13" fill="#283747"/>
<rect x="508.50" y="667.81" width="37.7" height="55.73" fill="#4a4259"/>
<rect x="508.50" y="723.24" width="37.7" height="54.17" fill="#2f124c"/>
<rect x="508.50" y="777.11" width="37.7" height="8.71" fill="#560000"/>
<rect x="508.50" y="785.52" width="37.7" height="133.58" fill="#02073a"/>
<text transform="translate(512.07 942.20) scale(0.6594 1)" font-size="18.57" font-weight="bold" letter-spacing="1.408" fill="#04202f">1938</text><text transform="translate(512.53 942.20) scale(0.6594 1)" font-size="18.57" font-weight="bold" letter-spacing="1.408" fill="#04202f">1938</text><text transform="translate(512.99 942.20) scale(0.6594 1)" font-size="18.57" font-weight="bold" letter-spacing="1.408" fill="#04202f">1938</text>
<text transform="translate(488.17 644.80) scale(0.6573 1)" font-size="16.71" font-weight="bold" letter-spacing="0.636" fill="#b5402b">9,3</text><text transform="translate(488.38 644.80) scale(0.6573 1)" font-size="16.71" font-weight="bold" letter-spacing="0.636" fill="#b5402b">9,3</text><text transform="translate(488.59 644.80) scale(0.6573 1)" font-size="16.71" font-weight="bold" letter-spacing="0.636" fill="#b5402b">9,3</text>
<text transform="translate(488.28 669.30) scale(0.6476 1)" font-size="16.71" font-weight="bold" letter-spacing="0.645" fill="#283747">3,8</text><text transform="translate(488.49 669.30) scale(0.6476 1)" font-size="16.71" font-weight="bold" letter-spacing="0.645" fill="#283747">3,8</text><text transform="translate(488.70 669.30) scale(0.6476 1)" font-size="16.71" font-weight="bold" letter-spacing="0.645" fill="#283747">3,8</text>
<text transform="translate(481.64 701.80) scale(0.6538 1)" font-size="16.71" font-weight="bold" letter-spacing="0.639" fill="#4a4259">17,8</text><text transform="translate(481.85 701.80) scale(0.6538 1)" font-size="16.71" font-weight="bold" letter-spacing="0.639" fill="#4a4259">17,8</text><text transform="translate(482.06 701.80) scale(0.6538 1)" font-size="16.71" font-weight="bold" letter-spacing="0.639" fill="#4a4259">17,8</text>
<text transform="translate(481.64 753.50) scale(0.6574 1)" font-size="16.71" font-weight="bold" letter-spacing="0.636" fill="#2f124c">17,3</text><text transform="translate(481.85 753.50) scale(0.6574 1)" font-size="16.71" font-weight="bold" letter-spacing="0.636" fill="#2f124c">17,3</text><text transform="translate(482.06 753.50) scale(0.6574 1)" font-size="16.71" font-weight="bold" letter-spacing="0.636" fill="#2f124c">17,3</text>
<text transform="translate(488.17 787.10) scale(0.6598 1)" font-size="16.71" font-weight="bold" letter-spacing="0.633" fill="#560000">2,7</text><text transform="translate(488.38 787.10) scale(0.6598 1)" font-size="16.71" font-weight="bold" letter-spacing="0.633" fill="#560000">2,7</text><text transform="translate(488.59 787.10) scale(0.6598 1)" font-size="16.71" font-weight="bold" letter-spacing="0.633" fill="#560000">2,7</text>
<text transform="translate(482.14 906.80) scale(0.6384 1)" font-size="16.71" font-weight="bold" letter-spacing="0.655" fill="#02073a">42,8</text><text transform="translate(482.35 906.80) scale(0.6384 1)" font-size="16.71" font-weight="bold" letter-spacing="0.655" fill="#02073a">42,8</text><text transform="translate(482.56 906.80) scale(0.6384 1)" font-size="16.71" font-weight="bold" letter-spacing="0.655" fill="#02073a">42,8</text>
<rect x="581.40" y="733.83" width="37.7" height="46.70" fill="#b5402b"/>
<rect x="581.40" y="780.23" width="37.7" height="21.79" fill="#283747"/>
<rect x="581.40" y="801.71" width="37.7" height="10.58" fill="#4a4259"/>
<rect x="581.40" y="811.99" width="37.7" height="10.26" fill="#2f124c"/>
<rect x="581.40" y="821.95" width="37.7" height="9.02" fill="#560000"/>
<rect x="581.40" y="830.67" width="37.7" height="88.43" fill="#02073a"/>
<text transform="translate(584.96 942.20) scale(0.6625 1)" font-size="18.57" font-weight="bold" letter-spacing="1.402" fill="#04202f">1956</text><text transform="translate(585.43 942.20) scale(0.6625 1)" font-size="18.57" font-weight="bold" letter-spacing="1.402" fill="#04202f">1956</text><text transform="translate(585.89 942.20) scale(0.6625 1)" font-size="18.57" font-weight="bold" letter-spacing="1.402" fill="#04202f">1956</text>
<text transform="translate(554.54 751.05) scale(0.6574 1)" font-size="16.71" font-weight="bold" letter-spacing="0.636" fill="#b5402b">14,9</text><text transform="translate(554.75 751.05) scale(0.6574 1)" font-size="16.71" font-weight="bold" letter-spacing="0.636" fill="#b5402b">14,9</text><text transform="translate(554.96 751.05) scale(0.6574 1)" font-size="16.71" font-weight="bold" letter-spacing="0.636" fill="#b5402b">14,9</text>
<text transform="translate(561.01 790.30) scale(0.6598 1)" font-size="16.71" font-weight="bold" letter-spacing="0.633" fill="#283747">6,9</text><text transform="translate(561.22 790.30) scale(0.6598 1)" font-size="16.71" font-weight="bold" letter-spacing="0.633" fill="#283747">6,9</text><text transform="translate(561.43 790.30) scale(0.6598 1)" font-size="16.71" font-weight="bold" letter-spacing="0.633" fill="#283747">6,9</text>
<text transform="translate(561.18 807.05) scale(0.6524 1)" font-size="16.71" font-weight="bold" letter-spacing="0.640" fill="#4a4259">3,3</text><text transform="translate(561.39 807.05) scale(0.6524 1)" font-size="16.71" font-weight="bold" letter-spacing="0.640" fill="#4a4259">3,3</text><text transform="translate(561.60 807.05) scale(0.6524 1)" font-size="16.71" font-weight="bold" letter-spacing="0.640" fill="#4a4259">3,3</text>
<text transform="translate(561.18 820.30) scale(0.6524 1)" font-size="16.71" font-weight="bold" letter-spacing="0.640" fill="#2f124c">3,2</text><text transform="translate(561.39 820.30) scale(0.6524 1)" font-size="16.71" font-weight="bold" letter-spacing="0.640" fill="#2f124c">3,2</text><text transform="translate(561.60 820.30) scale(0.6524 1)" font-size="16.71" font-weight="bold" letter-spacing="0.640" fill="#2f124c">3,2</text>
<text transform="translate(561.07 837.80) scale(0.6524 1)" font-size="16.71" font-weight="bold" letter-spacing="0.640" fill="#560000">2,8</text><text transform="translate(561.28 837.80) scale(0.6524 1)" font-size="16.71" font-weight="bold" letter-spacing="0.640" fill="#560000">2,8</text><text transform="translate(561.49 837.80) scale(0.6524 1)" font-size="16.71" font-weight="bold" letter-spacing="0.640" fill="#560000">2,8</text>
<text transform="translate(554.88 906.80) scale(0.6469 1)" font-size="16.71" font-weight="bold" letter-spacing="0.646" fill="#02073a">28,3</text><text transform="translate(555.08 906.80) scale(0.6469 1)" font-size="16.71" font-weight="bold" letter-spacing="0.646" fill="#02073a">28,3</text><text transform="translate(555.29 906.80) scale(0.6469 1)" font-size="16.71" font-weight="bold" letter-spacing="0.646" fill="#02073a">28,3</text>
<rect x="654.30" y="662.52" width="37.7" height="112.09" fill="#b5402b"/>
<rect x="654.30" y="774.31" width="37.7" height="51.37" fill="#283747"/>
<rect x="654.30" y="825.38" width="37.7" height="17.74" fill="#4a4259"/>
<rect x="654.30" y="842.82" width="37.7" height="2.79" fill="#2f124c"/>
<rect x="654.30" y="845.31" width="37.7" height="14.31" fill="#560000"/>
<rect x="654.30" y="859.32" width="37.7" height="59.78" fill="#02073a"/>
<text transform="translate(657.86 942.20) scale(0.6625 1)" font-size="18.57" font-weight="bold" letter-spacing="1.402" fill="#04202f">1979</text><text transform="translate(658.33 942.20) scale(0.6625 1)" font-size="18.57" font-weight="bold" letter-spacing="1.402" fill="#04202f">1979</text><text transform="translate(658.79 942.20) scale(0.6625 1)" font-size="18.57" font-weight="bold" letter-spacing="1.402" fill="#04202f">1979</text>
<text transform="translate(627.88 688.55) scale(0.6435 1)" font-size="16.71" font-weight="bold" letter-spacing="0.649" fill="#b5402b">35,9</text><text transform="translate(628.09 688.55) scale(0.6435 1)" font-size="16.71" font-weight="bold" letter-spacing="0.649" fill="#b5402b">35,9</text><text transform="translate(628.30 688.55) scale(0.6435 1)" font-size="16.71" font-weight="bold" letter-spacing="0.649" fill="#b5402b">35,9</text>
<text transform="translate(627.45 796.55) scale(0.6452 1)" font-size="16.71" font-weight="bold" letter-spacing="0.648" fill="#283747">16,4</text><text transform="translate(627.66 796.55) scale(0.6452 1)" font-size="16.71" font-weight="bold" letter-spacing="0.648" fill="#283747">16,4</text><text transform="translate(627.87 796.55) scale(0.6452 1)" font-size="16.71" font-weight="bold" letter-spacing="0.648" fill="#283747">16,4</text>
<text transform="translate(633.97 831.55) scale(0.6573 1)" font-size="16.71" font-weight="bold" letter-spacing="0.636" fill="#4a4259">5,6</text><text transform="translate(634.18 831.55) scale(0.6573 1)" font-size="16.71" font-weight="bold" letter-spacing="0.636" fill="#4a4259">5,6</text><text transform="translate(634.39 831.55) scale(0.6573 1)" font-size="16.71" font-weight="bold" letter-spacing="0.636" fill="#4a4259">5,6</text>
<text transform="translate(633.92 848.00) scale(0.6549 1)" font-size="16.71" font-weight="bold" letter-spacing="0.638" fill="#2f124c">0,8</text><text transform="translate(634.13 848.00) scale(0.6549 1)" font-size="16.71" font-weight="bold" letter-spacing="0.638" fill="#2f124c">0,8</text><text transform="translate(634.33 848.00) scale(0.6549 1)" font-size="16.71" font-weight="bold" letter-spacing="0.638" fill="#2f124c">0,8</text>
<text transform="translate(634.14 864.80) scale(0.6351 1)" font-size="16.96" font-weight="bold" letter-spacing="0.667" fill="#560000">4,5</text><text transform="translate(634.35 864.80) scale(0.6351 1)" font-size="16.96" font-weight="bold" letter-spacing="0.667" fill="#560000">4,5</text><text transform="translate(634.56 864.80) scale(0.6351 1)" font-size="16.96" font-weight="bold" letter-spacing="0.667" fill="#560000">4,5</text>
<text transform="translate(627.44 906.80) scale(0.6538 1)" font-size="16.71" font-weight="bold" letter-spacing="0.639" fill="#02073a">19,1</text><text transform="translate(627.65 906.80) scale(0.6538 1)" font-size="16.71" font-weight="bold" letter-spacing="0.639" fill="#02073a">19,1</text><text transform="translate(627.86 906.80) scale(0.6538 1)" font-size="16.71" font-weight="bold" letter-spacing="0.639" fill="#02073a">19,1</text>
<rect x="727.20" y="630.13" width="37.7" height="149.46" fill="#b5402b"/>
<rect x="727.20" y="779.29" width="37.7" height="60.40" fill="#283747"/>
<rect x="727.20" y="839.39" width="37.7" height="15.25" fill="#4a4259"/>
<rect x="727.20" y="854.34" width="37.7" height="2.17" fill="#2f124c"/>
<rect x="727.20" y="856.21" width="37.7" height="15.56" fill="#560000"/>
<rect x="727.20" y="871.47" width="37.7" height="47.63" fill="#02073a"/>
<text transform="translate(730.76 942.20) scale(0.6625 1)" font-size="18.57" font-weight="bold" letter-spacing="1.402" fill="#04202f">1989</text><text transform="translate(731.23 942.20) scale(0.6625 1)" font-size="18.57" font-weight="bold" letter-spacing="1.402" fill="#04202f">1989</text><text transform="translate(731.69 942.20) scale(0.6625 1)" font-size="18.57" font-weight="bold" letter-spacing="1.402" fill="#04202f">1989</text>
<text transform="translate(700.84 657.05) scale(0.6418 1)" font-size="16.71" font-weight="bold" letter-spacing="0.651" fill="#b5402b">47,9</text><text transform="translate(701.05 657.05) scale(0.6418 1)" font-size="16.71" font-weight="bold" letter-spacing="0.651" fill="#b5402b">47,9</text><text transform="translate(701.26 657.05) scale(0.6418 1)" font-size="16.71" font-weight="bold" letter-spacing="0.651" fill="#b5402b">47,9</text>
<text transform="translate(700.34 796.55) scale(0.6574 1)" font-size="16.71" font-weight="bold" letter-spacing="0.636" fill="#283747">19,3</text><text transform="translate(700.55 796.55) scale(0.6574 1)" font-size="16.71" font-weight="bold" letter-spacing="0.636" fill="#283747">19,3</text><text transform="translate(700.76 796.55) scale(0.6574 1)" font-size="16.71" font-weight="bold" letter-spacing="0.636" fill="#283747">19,3</text>
<text transform="translate(707.04 840.30) scale(0.6452 1)" font-size="16.71" font-weight="bold" letter-spacing="0.648" fill="#4a4259">4,8</text><text transform="translate(707.25 840.30) scale(0.6452 1)" font-size="16.71" font-weight="bold" letter-spacing="0.648" fill="#4a4259">4,8</text><text transform="translate(707.46 840.30) scale(0.6452 1)" font-size="16.71" font-weight="bold" letter-spacing="0.648" fill="#4a4259">4,8</text>
<text transform="translate(706.81 856.05) scale(0.6598 1)" font-size="16.71" font-weight="bold" letter-spacing="0.633" fill="#2f124c">0,6</text><text transform="translate(707.02 856.05) scale(0.6598 1)" font-size="16.71" font-weight="bold" letter-spacing="0.633" fill="#2f124c">0,6</text><text transform="translate(707.23 856.05) scale(0.6598 1)" font-size="16.71" font-weight="bold" letter-spacing="0.633" fill="#2f124c">0,6</text>
<text transform="translate(707.04 874.60) scale(0.6500 1)" font-size="16.71" font-weight="bold" letter-spacing="0.643" fill="#560000">4,9</text><text transform="translate(707.25 874.60) scale(0.6500 1)" font-size="16.71" font-weight="bold" letter-spacing="0.643" fill="#560000">4,9</text><text transform="translate(707.45 874.60) scale(0.6500 1)" font-size="16.71" font-weight="bold" letter-spacing="0.643" fill="#560000">4,9</text>
<text transform="translate(700.34 906.80) scale(0.6574 1)" font-size="16.71" font-weight="bold" letter-spacing="0.636" fill="#02073a">15,2</text><text transform="translate(700.55 906.80) scale(0.6574 1)" font-size="16.71" font-weight="bold" letter-spacing="0.636" fill="#02073a">15,2</text><text transform="translate(700.76 906.80) scale(0.6574 1)" font-size="16.71" font-weight="bold" letter-spacing="0.636" fill="#02073a">15,2</text>
<rect x="800.10" y="597.12" width="37.7" height="162.23" fill="#b5402b"/>
<rect x="800.10" y="759.05" width="37.7" height="73.17" fill="#283747"/>
<rect x="800.10" y="831.92" width="37.7" height="22.72" fill="#4a4259"/>
<rect x="800.10" y="854.34" width="37.7" height="2.17" fill="#2f124c"/>
<rect x="800.10" y="856.21" width="37.7" height="14.31" fill="#560000"/>
<rect x="800.10" y="870.22" width="37.7" height="48.88" fill="#02073a"/>
<text transform="translate(803.66 942.20) scale(0.6625 1)" font-size="18.57" font-weight="bold" letter-spacing="1.402" fill="#04202f">1999</text><text transform="translate(804.13 942.20) scale(0.6625 1)" font-size="18.57" font-weight="bold" letter-spacing="1.402" fill="#04202f">1999</text><text transform="translate(804.59 942.20) scale(0.6625 1)" font-size="18.57" font-weight="bold" letter-spacing="1.402" fill="#04202f">1999</text>
<text transform="translate(773.58 627.30) scale(0.6469 1)" font-size="16.71" font-weight="bold" letter-spacing="0.646" fill="#b5402b">52,0</text><text transform="translate(773.78 627.30) scale(0.6469 1)" font-size="16.71" font-weight="bold" letter-spacing="0.646" fill="#b5402b">52,0</text><text transform="translate(773.99 627.30) scale(0.6469 1)" font-size="16.71" font-weight="bold" letter-spacing="0.646" fill="#b5402b">52,0</text>
<text transform="translate(773.58 782.55) scale(0.6351 1)" font-size="16.71" font-weight="bold" letter-spacing="0.658" fill="#283747">23,4</text><text transform="translate(773.79 782.55) scale(0.6351 1)" font-size="16.71" font-weight="bold" letter-spacing="0.658" fill="#283747">23,4</text><text transform="translate(774.00 782.55) scale(0.6351 1)" font-size="16.71" font-weight="bold" letter-spacing="0.658" fill="#283747">23,4</text>
<text transform="translate(779.66 840.30) scale(0.6623 1)" font-size="16.71" font-weight="bold" letter-spacing="0.631" fill="#4a4259">7,2</text><text transform="translate(779.87 840.30) scale(0.6623 1)" font-size="16.71" font-weight="bold" letter-spacing="0.631" fill="#4a4259">7,2</text><text transform="translate(780.08 840.30) scale(0.6623 1)" font-size="16.71" font-weight="bold" letter-spacing="0.631" fill="#4a4259">7,2</text>
<text transform="translate(779.71 856.05) scale(0.6598 1)" font-size="16.71" font-weight="bold" letter-spacing="0.633" fill="#2f124c">0,6</text><text transform="translate(779.92 856.05) scale(0.6598 1)" font-size="16.71" font-weight="bold" letter-spacing="0.633" fill="#2f124c">0,6</text><text transform="translate(780.13 856.05) scale(0.6598 1)" font-size="16.71" font-weight="bold" letter-spacing="0.633" fill="#2f124c">0,6</text>
<text transform="translate(779.94 874.60) scale(0.6351 1)" font-size="16.96" font-weight="bold" letter-spacing="0.667" fill="#560000">4,5</text><text transform="translate(780.15 874.60) scale(0.6351 1)" font-size="16.96" font-weight="bold" letter-spacing="0.667" fill="#560000">4,5</text><text transform="translate(780.36 874.60) scale(0.6351 1)" font-size="16.96" font-weight="bold" letter-spacing="0.667" fill="#560000">4,5</text>
<text transform="translate(773.24 906.80) scale(0.6574 1)" font-size="16.71" font-weight="bold" letter-spacing="0.636" fill="#02073a">15,6</text><text transform="translate(773.45 906.80) scale(0.6574 1)" font-size="16.71" font-weight="bold" letter-spacing="0.636" fill="#02073a">15,6</text><text transform="translate(773.66 906.80) scale(0.6574 1)" font-size="16.71" font-weight="bold" letter-spacing="0.636" fill="#02073a">15,6</text>
<rect x="873.00" y="581.24" width="37.7" height="151.33" fill="#b5402b"/>
<rect x="873.00" y="732.27" width="37.7" height="85.31" fill="#283747"/>
<rect x="873.00" y="817.28" width="37.7" height="33.93" fill="#4a4259"/>
<rect x="873.00" y="850.91" width="37.7" height="4.04" fill="#2f124c"/>
<rect x="873.00" y="854.65" width="37.7" height="12.44" fill="#560000"/>
<rect x="873.00" y="866.80" width="37.7" height="52.30" fill="#02073a"/>
<text transform="translate(876.94 942.20) scale(0.6532 1)" font-size="18.57" font-weight="bold" letter-spacing="1.421" fill="#04202f">2009</text><text transform="translate(877.40 942.20) scale(0.6532 1)" font-size="18.57" font-weight="bold" letter-spacing="1.421" fill="#04202f">2009</text><text transform="translate(877.86 942.20) scale(0.6532 1)" font-size="18.57" font-weight="bold" letter-spacing="1.421" fill="#04202f">2009</text>
<text transform="translate(846.64 608.05) scale(0.6384 1)" font-size="16.71" font-weight="bold" letter-spacing="0.655" fill="#b5402b">48,5</text><text transform="translate(846.85 608.05) scale(0.6384 1)" font-size="16.71" font-weight="bold" letter-spacing="0.655" fill="#b5402b">48,5</text><text transform="translate(847.06 608.05) scale(0.6384 1)" font-size="16.71" font-weight="bold" letter-spacing="0.655" fill="#b5402b">48,5</text>
<text transform="translate(846.48 759.80) scale(0.6469 1)" font-size="16.71" font-weight="bold" letter-spacing="0.646" fill="#283747">27,3</text><text transform="translate(846.68 759.80) scale(0.6469 1)" font-size="16.71" font-weight="bold" letter-spacing="0.646" fill="#283747">27,3</text><text transform="translate(846.89 759.80) scale(0.6469 1)" font-size="16.71" font-weight="bold" letter-spacing="0.646" fill="#283747">27,3</text>
<text transform="translate(846.14 835.05) scale(0.6538 1)" font-size="16.71" font-weight="bold" letter-spacing="0.639" fill="#4a4259">10,8</text><text transform="translate(846.35 835.05) scale(0.6538 1)" font-size="16.71" font-weight="bold" letter-spacing="0.639" fill="#4a4259">10,8</text><text transform="translate(846.56 835.05) scale(0.6538 1)" font-size="16.71" font-weight="bold" letter-spacing="0.639" fill="#4a4259">10,8</text>
<text transform="translate(852.33 856.05) scale(0.6726 1)" font-size="16.71" font-weight="bold" letter-spacing="0.621" fill="#2f124c">1,2</text><text transform="translate(852.53 856.05) scale(0.6726 1)" font-size="16.71" font-weight="bold" letter-spacing="0.621" fill="#2f124c">1,2</text><text transform="translate(852.74 856.05) scale(0.6726 1)" font-size="16.71" font-weight="bold" letter-spacing="0.621" fill="#2f124c">1,2</text>
<text transform="translate(852.78 872.50) scale(0.6524 1)" font-size="16.71" font-weight="bold" letter-spacing="0.640" fill="#560000">3,9</text><text transform="translate(852.99 872.50) scale(0.6524 1)" font-size="16.71" font-weight="bold" letter-spacing="0.640" fill="#560000">3,9</text><text transform="translate(853.20 872.50) scale(0.6524 1)" font-size="16.71" font-weight="bold" letter-spacing="0.640" fill="#560000">3,9</text>
<text transform="translate(846.14 906.80) scale(0.6592 1)" font-size="16.71" font-weight="bold" letter-spacing="0.634" fill="#02073a">16,7</text><text transform="translate(846.35 906.80) scale(0.6592 1)" font-size="16.71" font-weight="bold" letter-spacing="0.634" fill="#02073a">16,7</text><text transform="translate(846.56 906.80) scale(0.6592 1)" font-size="16.71" font-weight="bold" letter-spacing="0.634" fill="#02073a">16,7</text>
<rect x="945.90" y="529.86" width="37.7" height="137.94" fill="#b5402b"/>
<rect x="945.90" y="667.50" width="37.7" height="95.59" fill="#283747"/>
<rect x="945.90" y="762.79" width="37.7" height="42.65" fill="#4a4259"/>
<rect x="945.90" y="805.14" width="37.7" height="13.38" fill="#2f124c"/>
<rect x="945.90" y="818.22" width="37.7" height="14.62" fill="#560000"/>
<rect x="945.90" y="832.54" width="37.7" height="86.56" fill="#02073a"/>
<text transform="translate(949.84 942.20) scale(0.6532 1)" font-size="18.57" font-weight="bold" letter-spacing="1.421" fill="#04202f">2019</text><text transform="translate(950.30 942.20) scale(0.6532 1)" font-size="18.57" font-weight="bold" letter-spacing="1.421" fill="#04202f">2019</text><text transform="translate(950.76 942.20) scale(0.6532 1)" font-size="18.57" font-weight="bold" letter-spacing="1.421" fill="#04202f">2019</text>
<text transform="translate(919.54 559.80) scale(0.6418 1)" font-size="16.71" font-weight="bold" letter-spacing="0.651" fill="#b5402b">44,2</text><text transform="translate(919.75 559.80) scale(0.6418 1)" font-size="16.71" font-weight="bold" letter-spacing="0.651" fill="#b5402b">44,2</text><text transform="translate(919.96 559.80) scale(0.6418 1)" font-size="16.71" font-weight="bold" letter-spacing="0.651" fill="#b5402b">44,2</text>
<text transform="translate(919.48 694.50) scale(0.6435 1)" font-size="16.71" font-weight="bold" letter-spacing="0.649" fill="#283747">30,6</text><text transform="translate(919.69 694.50) scale(0.6435 1)" font-size="16.71" font-weight="bold" letter-spacing="0.649" fill="#283747">30,6</text><text transform="translate(919.90 694.50) scale(0.6435 1)" font-size="16.71" font-weight="bold" letter-spacing="0.649" fill="#283747">30,6</text>
<text transform="translate(919.04 783.30) scale(0.6574 1)" font-size="16.71" font-weight="bold" letter-spacing="0.636" fill="#4a4259">13,6</text><text transform="translate(919.25 783.30) scale(0.6574 1)" font-size="16.71" font-weight="bold" letter-spacing="0.636" fill="#4a4259">13,6</text><text transform="translate(919.46 783.30) scale(0.6574 1)" font-size="16.71" font-weight="bold" letter-spacing="0.636" fill="#4a4259">13,6</text>
<text transform="translate(925.74 818.30) scale(0.6500 1)" font-size="16.71" font-weight="bold" letter-spacing="0.643" fill="#2f124c">4,2</text><text transform="translate(925.95 818.30) scale(0.6500 1)" font-size="16.71" font-weight="bold" letter-spacing="0.643" fill="#2f124c">4,2</text><text transform="translate(926.15 818.30) scale(0.6500 1)" font-size="16.71" font-weight="bold" letter-spacing="0.643" fill="#2f124c">4,2</text>
<text transform="translate(925.74 839.30) scale(0.6500 1)" font-size="16.71" font-weight="bold" letter-spacing="0.643" fill="#560000">4,6</text><text transform="translate(925.95 839.30) scale(0.6500 1)" font-size="16.71" font-weight="bold" letter-spacing="0.643" fill="#560000">4,6</text><text transform="translate(926.15 839.30) scale(0.6500 1)" font-size="16.71" font-weight="bold" letter-spacing="0.643" fill="#560000">4,6</text>
<text transform="translate(919.37 906.80) scale(0.6486 1)" font-size="16.71" font-weight="bold" letter-spacing="0.644" fill="#02073a">27,7</text><text transform="translate(919.58 906.80) scale(0.6486 1)" font-size="16.71" font-weight="bold" letter-spacing="0.644" fill="#02073a">27,7</text><text transform="translate(919.79 906.80) scale(0.6486 1)" font-size="16.71" font-weight="bold" letter-spacing="0.644" fill="#02073a">27,7</text>
<circle cx="453.5" cy="689.1" r="8.35" fill="#b5402b"/>
<text transform="translate(369.00 686.75) scale(0.8135 1)" font-size="14.14" font-weight="bold" letter-spacing="0.608" fill="#b5402b">ΝΟΣΗΜΑΤΑ</text><text transform="translate(369.25 686.75) scale(0.8135 1)" font-size="14.14" font-weight="bold" letter-spacing="0.608" fill="#b5402b">ΝΟΣΗΜΑΤΑ</text><text transform="translate(369.50 686.75) scale(0.8135 1)" font-size="14.14" font-weight="bold" letter-spacing="0.608" fill="#b5402b">ΝΟΣΗΜΑΤΑ</text>
<text transform="translate(342.49 701.00) scale(0.7750 1)" font-size="14.14" font-weight="bold" letter-spacing="0.639" fill="#b5402b">ΚΥΚΛΟΦΟΡΙΚΟΥ</text><text transform="translate(342.74 701.00) scale(0.7750 1)" font-size="14.14" font-weight="bold" letter-spacing="0.639" fill="#b5402b">ΚΥΚΛΟΦΟΡΙΚΟΥ</text><text transform="translate(342.98 701.00) scale(0.7750 1)" font-size="14.14" font-weight="bold" letter-spacing="0.639" fill="#b5402b">ΚΥΚΛΟΦΟΡΙΚΟΥ</text>
<circle cx="453.5" cy="730.2" r="8.35" fill="#283747"/>
<text transform="translate(347.27 734.75) scale(0.7976 1)" font-size="14.14" font-weight="bold" letter-spacing="0.621" fill="#283747">ΝΕΟΠΛΑΣΜΑΤΑ</text><text transform="translate(347.51 734.75) scale(0.7976 1)" font-size="14.14" font-weight="bold" letter-spacing="0.621" fill="#283747">ΝΕΟΠΛΑΣΜΑΤΑ</text><text transform="translate(347.76 734.75) scale(0.7976 1)" font-size="14.14" font-weight="bold" letter-spacing="0.621" fill="#283747">ΝΕΟΠΛΑΣΜΑΤΑ</text>
<circle cx="453.5" cy="772" r="8.35" fill="#4a4259"/>
<text transform="translate(378.48 769.25) scale(0.7849 1)" font-size="14.14" font-weight="bold" letter-spacing="0.631" fill="#4a4259">ΠΑΘΗΣΕΙΣ</text><text transform="translate(378.73 769.25) scale(0.7849 1)" font-size="14.14" font-weight="bold" letter-spacing="0.631" fill="#4a4259">ΠΑΘΗΣΕΙΣ</text><text transform="translate(378.97 769.25) scale(0.7849 1)" font-size="14.14" font-weight="bold" letter-spacing="0.631" fill="#4a4259">ΠΑΘΗΣΕΙΣ</text>
<text transform="translate(337.58 783.50) scale(0.7788 1)" font-size="14.14" font-weight="bold" letter-spacing="0.636" fill="#4a4259">ΑΝΑΠΝΕΥΣΤΙΚΟΥ</text><text transform="translate(337.83 783.50) scale(0.7788 1)" font-size="14.14" font-weight="bold" letter-spacing="0.636" fill="#4a4259">ΑΝΑΠΝΕΥΣΤΙΚΟΥ</text><text transform="translate(338.07 783.50) scale(0.7788 1)" font-size="14.14" font-weight="bold" letter-spacing="0.636" fill="#4a4259">ΑΝΑΠΝΕΥΣΤΙΚΟΥ</text>
<circle cx="453.5" cy="816" r="8.35" fill="#2f124c"/>
<text transform="translate(380.19 813.25) scale(0.8213 1)" font-size="14.14" font-weight="bold" letter-spacing="0.603" fill="#2f124c">ΛΟΙΜΩΔΗ</text><text transform="translate(380.44 813.25) scale(0.8213 1)" font-size="14.14" font-weight="bold" letter-spacing="0.603" fill="#2f124c">ΛΟΙΜΩΔΗ</text><text transform="translate(380.69 813.25) scale(0.8213 1)" font-size="14.14" font-weight="bold" letter-spacing="0.603" fill="#2f124c">ΛΟΙΜΩΔΗ</text>
<text transform="translate(370.96 827.20) scale(0.8103 1)" font-size="14.14" font-weight="bold" letter-spacing="0.611" fill="#2f124c">ΝΟΣΗΜΑΤΑ</text><text transform="translate(371.20 827.20) scale(0.8103 1)" font-size="14.14" font-weight="bold" letter-spacing="0.611" fill="#2f124c">ΝΟΣΗΜΑΤΑ</text><text transform="translate(371.45 827.20) scale(0.8103 1)" font-size="14.14" font-weight="bold" letter-spacing="0.611" fill="#2f124c">ΝΟΣΗΜΑΤΑ</text>
<circle cx="453.5" cy="861.1" r="8.35" fill="#560000"/>
<text transform="translate(402.79 858.25) scale(0.7687 1)" font-size="14.14" font-weight="bold" letter-spacing="0.644" fill="#560000">ΒΙΑΙΟΙ</text><text transform="translate(403.04 858.25) scale(0.7687 1)" font-size="14.14" font-weight="bold" letter-spacing="0.644" fill="#560000">ΒΙΑΙΟΙ</text><text transform="translate(403.29 858.25) scale(0.7687 1)" font-size="14.14" font-weight="bold" letter-spacing="0.644" fill="#560000">ΒΙΑΙΟΙ</text>
<text transform="translate(385.35 872.20) scale(0.7916 1)" font-size="14.14" font-weight="bold" letter-spacing="0.625" fill="#560000">ΘΑΝΑΤΟΙ</text><text transform="translate(385.60 872.20) scale(0.7916 1)" font-size="14.14" font-weight="bold" letter-spacing="0.625" fill="#560000">ΘΑΝΑΤΟΙ</text><text transform="translate(385.85 872.20) scale(0.7916 1)" font-size="14.14" font-weight="bold" letter-spacing="0.625" fill="#560000">ΘΑΝΑΤΟΙ</text>
<circle cx="453.5" cy="900.4" r="8.35" fill="#02073a"/>
<text transform="translate(360.28 905.20) scale(0.7727 1)" font-size="14.35" font-weight="bold" letter-spacing="0.650" fill="#02073a">ΑΛΛΕΣ</text><text transform="translate(360.53 905.20) scale(0.7727 1)" font-size="14.35" font-weight="bold" letter-spacing="0.650" fill="#02073a">ΑΛΛΕΣ</text><text transform="translate(360.78 905.20) scale(0.7727 1)" font-size="14.35" font-weight="bold" letter-spacing="0.650" fill="#02073a">ΑΛΛΕΣ</text>
<text transform="translate(402.54 905.20) scale(0.7461 1)" font-size="14.24" font-weight="bold" letter-spacing="0.668" fill="#02073a">ΑΙΤΙΕΣ</text><text transform="translate(402.79 905.20) scale(0.7461 1)" font-size="14.24" font-weight="bold" letter-spacing="0.668" fill="#02073a">ΑΙΤΙΕΣ</text><text transform="translate(403.04 905.20) scale(0.7461 1)" font-size="14.24" font-weight="bold" letter-spacing="0.668" fill="#02073a">ΑΙΤΙΕΣ</text>
<rect x="7" y="965.5" width="30.5" height="30.5" rx="5.5" fill="#e9e9e9"/>
<text transform="translate(42.45 978.50) scale(0.8597 1)" font-size="9.93" fill="#f3e6e6">infographic</text>
<text transform="translate(42.56 991.20) scale(0.7030 1)" font-size="13.96" font-weight="bold" letter-spacing="0.993" fill="#fff">ΕΛΣΤΑΤ</text><text transform="translate(42.91 991.20) scale(0.7030 1)" font-size="13.96" font-weight="bold" letter-spacing="0.993" fill="#fff">ΕΛΣΤΑΤ</text><text transform="translate(43.26 991.20) scale(0.7030 1)" font-size="13.96" font-weight="bold" letter-spacing="0.993" fill="#fff">ΕΛΣΤΑΤ</text>
<text transform="translate(101.79 985.00) scale(0.9101 1)" font-size="15.36" font-weight="bold" fill="#fff">Πηγή:</text>
<text transform="translate(146.56 985.00) scale(0.9383 1)" font-size="15.36" font-weight="bold" fill="#fff">Ελληνική</text>
<text transform="translate(213.89 985.00) scale(0.9880 1)" font-size="15.36" font-weight="bold" fill="#fff">Στατιστική</text>
<text transform="translate(292.52 985.00) scale(0.9153 1)" font-size="15.36" font-weight="bold" fill="#fff">Αρχή</text>
<text transform="translate(349.52 985.00) scale(1.0453 1)" font-size="15.36" font-weight="bold" fill="#fff">23</text>
<text transform="translate(373.15 985.00) scale(0.9691 1)" font-size="15.36" font-weight="bold" fill="#fff">Φεβρουαρίου</text>
<text transform="translate(475.02 985.00) scale(1.0404 1)" font-size="15.36" font-weight="bold" fill="#fff">2022</text>
<path d="M335.9 987.9 L343.7 974" stroke="#fff" stroke-width="1.4"/>
<text transform="translate(782.67 987.40) scale(0.9312 1)" font-size="23.43" font-weight="bold" letter-spacing="0.503" fill="#fff">#GreekDataMatter</text><text transform="translate(782.91 987.40) scale(0.9312 1)" font-size="23.43" font-weight="bold" letter-spacing="0.503" fill="#fff">#GreekDataMatter</text><text transform="translate(783.14 987.40) scale(0.9312 1)" font-size="23.43" font-weight="bold" letter-spacing="0.503" fill="#fff">#GreekDataMatter</text>
<circle cx="448.7" cy="177.3" r="18.55" fill="#4a4259"/><path d="M432.4 200.2 H465.4 C475.9 200.2 483.9 210 487.09999999999997 228.4 C488.7 240 489.2 255 489.4 271.8 a6.35 6.35 0 0 1 -12.7 0 C476.79999999999995 255 475.4 238 471.2 221.4 V342.05 a10.25 10.25 0 0 1 -20.50 0 V268.75 H447.09999999999997 V342.05 a10.25 10.25 0 0 1 -20.50 0 V221.4 C422.4 238 421.0 255 421.09999999999997 271.8 a6.35 6.35 0 0 1 -12.7 0 C408.59999999999997 255 409.09999999999997 240 410.7 228.4 C413.9 210 421.9 200.2 432.4 200.2 Z" fill="#4a4259"/><path d="M446.4 240.2 L458.6 217 C461.8 210.5 458.8 207 453.9 207 C449 207 446 210.5 449.2 217 L461.6 240.4" fill="none" stroke="#fff" stroke-width="5" stroke-linejoin="round"/>
<g transform="translate(-85.803 475.885) scale(0.4623 0.4571)"><circle cx="448.7" cy="177.3" r="18.55" fill="#4a4259"/><path d="M432.4 200.2 H465.4 C475.9 200.2 483.9 210 487.09999999999997 228.4 C488.7 240 489.2 255 489.4 271.8 a6.35 6.35 0 0 1 -12.7 0 C476.79999999999995 255 475.4 238 471.2 221.4 V342.05 a10.25 10.25 0 0 1 -20.50 0 V268.75 H447.09999999999997 V342.05 a10.25 10.25 0 0 1 -20.50 0 V221.4 C422.4 238 421.0 255 421.09999999999997 271.8 a6.35 6.35 0 0 1 -12.7 0 C408.59999999999997 255 409.09999999999997 240 410.7 228.4 C413.9 210 421.9 200.2 432.4 200.2 Z" fill="#4a4259"/></g>
<circle cx="185.1" cy="558.3" r="8.2" fill="#500000"/><path d="M179.7 567.7 H190.1 C194.5 567.7 197 570 198.6 573.5 C201 578.5 203.5 586 206.4 595.9 C207 599 203.5 601.3 202.1 597.2 C200.5 591.5 198.5 585 196 579 L201.2 607.6 C196 612.5 174 612.5 168.7 607.6 L175.2 578.4 C172.5 585 170 591.5 167.6 597.2 C166 601.3 162.6 599 163.2 595.9 C166 586 169 578.5 171.3 573.5 C173 570 175.3 567.7 179.7 567.7 Z" fill="#500000"/><path d="M176.9 612.6 H183.9 V631.2 a3.5 3.5 0 0 1 -7 0 Z M185.7 612.6 H193.1 V631 a3.7 3.7 0 0 1 -7.4 0 Z" fill="#500000"/>
<g transform="translate(19.41 95.64) scale(0.577 0.572)"><g transform="translate(-85.803 475.885) scale(0.4623 0.4571)"><circle cx="448.7" cy="177.3" r="18.55" fill="#4a4259"/><path d="M432.4 200.2 H465.4 C475.9 200.2 483.9 210 487.09999999999997 228.4 C488.7 240 489.2 255 489.4 271.8 a6.35 6.35 0 0 1 -12.7 0 C476.79999999999995 255 475.4 238 471.2 221.4 V342.05 a10.25 10.25 0 0 1 -20.50 0 V268.75 H447.09999999999997 V342.05 a10.25 10.25 0 0 1 -20.50 0 V221.4 C422.4 238 421.0 255 421.09999999999997 271.8 a6.35 6.35 0 0 1 -12.7 0 C408.59999999999997 255 409.09999999999997 240 410.7 228.4 C413.9 210 421.9 200.2 432.4 200.2 Z" fill="#4a4259"/></g></g>
<g transform="translate(20.36 80.39) scale(0.617 0.598)"><circle cx="185.1" cy="558.3" r="8.2" fill="#500000"/><path d="M179.7 567.7 H190.1 C194.5 567.7 197 570 198.6 573.5 C201 578.5 203.5 586 206.4 595.9 C207 599 203.5 601.3 202.1 597.2 C200.5 591.5 198.5 585 196 579 L201.2 607.6 C196 612.5 174 612.5 168.7 607.6 L175.2 578.4 C172.5 585 170 591.5 167.6 597.2 C166 601.3 162.6 599 163.2 595.9 C166 586 169 578.5 171.3 573.5 C173 570 175.3 567.7 179.7 567.7 Z" fill="#500000"/><path d="M176.9 612.6 H183.9 V631.2 a3.5 3.5 0 0 1 -7 0 Z M185.7 612.6 H193.1 V631 a3.7 3.7 0 0 1 -7.4 0 Z" fill="#500000"/></g>
<circle cx="319.4" cy="177.9" r="18.45" fill="#4a4259"/><path d="M302.2 200.7 H338.6 C349 200.7 354.5 208.5 356.6 220 C358.6 232 359.6 245 359.6 252 V272.4 a6.43 6.43 0 0 1 -12.85 0 C346.9 258 345.8 238 341.6 222.8 V342.10 a10.20 10.20 0 0 1 -20.40 0 V269 H317.8 V342.15 a10.15 10.15 0 0 1 -20.30 0 V250.2 L287 251 L280.6 245 C279 239 280.3 230 283.3 222.8 C288 210 293 200.7 302.2 200.7 Z" fill="#4a4259"/><path d="M296.9 225 L293.1 235.6 L297.4 235.9 Z" fill="#fff"/><clipPath id="c1"><rect x="297.3" y="200" width="60" height="70"/></clipPath><path d="M287.2 245 L317.2 238.8" stroke="#fff" stroke-width="14.8" stroke-linecap="round" clip-path="url(#c1)"/><path d="M287.2 245 L317.2 238.8" stroke="#4a4259" stroke-width="13.4" stroke-linecap="round"/><path d="M317.6 208.8 C318 207.2 321 206.9 322.5 209.5 C323.5 207.6 329 207.2 331.6 208.6 L335.9 210 L335.1 212.6 C333.5 213.5 333.4 215 333.8 217 C334.8 221 334.2 227 331.6 231.2 C330.3 233.2 328.8 234.6 327.4 234.8 C325.3 234.4 323.2 233 321.8 231.2 C319.3 228 317.2 225.5 316.6 222 C316 218.5 316.2 212.5 317.6 208.8 Z" fill="#fff"/><path d="M321.2 208 C322 210.5 322.2 212 321.8 213 C320.8 214.8 319.5 215.8 318 216.8 M326 216.3 C328 214.5 330 213.5 332 213 C333 212.7 334 212.5 335 212.4 M322.4 220.2 C323.5 221 324.8 221.7 326 222 C327.6 222.3 329.3 222.1 330.8 221.4 C332.5 220.5 333.6 219.3 334.4 217.8 M323.6 228.6 C324 226.8 324.9 225 326 223.8 C326.7 223.1 327.5 222.6 328.4 222.3 M326.6 231.6 C327 228.5 327.6 225.5 328.4 223.2" fill="none" stroke="#4a4259" stroke-width="0.55"/>
<circle cx="570.75" cy="308.75" r="38.75" fill="#4a4259"/><path d="M570.9 271 L604 328.8 H537.5 Z" fill="#fff"/>
<circle cx="685.4" cy="177.5" r="19.1" fill="#4a4259"/><path d="M673.6 203 H705.8 C714.5 203 719.5 209 721.8 218 C725 230 727.2 245 727.5 256 L727.6 265.8 a6.85 6.85 0 0 1 -13.7 0 L708.6 228.4 V267.6 L723.3 339 C725.5 349 718 353.5 711 352.2 C705 351.2 702.8 347 701.6 340.4 L689 274.6 H683.8 V341.70 a10.70 10.70 0 0 1 -21.40 0 V234.7 C657 233 655.2 231 654 226 C652.5 218 655 208.5 661 204.6 C664 203 668 203 673.6 203 Z" fill="#4a4259"/><path d="M688.9 216.5 C689.5 213.8 692.5 213.6 695 216.5 C699 221 702.5 227.5 704.3 233 C705.6 237.5 706 242.5 704.8 244.5 C703.8 246 701.5 245 698.5 243 C695 240.8 691.5 238 688.9 235.2 Z" fill="#fff"/><path d="M681.7 216.5 C681.1 213.8 678.1 213.6 675.6 216.5 C671.6 221 668.1 227.5 666.3 233 C665 237.5 664.6 242.5 665.8 244.5 C666.8 246 669.1 245 672.1 243 C675.6 240.8 679.1 238 681.7 235.2 Z" fill="#fff"/><path d="M683.2 220 V225.6 L681.7 228.2 M687.5 220 V225.6 L688.9 228.2" fill="none" stroke="#fff" stroke-width="1.1"/><g fill="#4a4259"><circle cx="699.6" cy="236" r="1.2"/><circle cx="697.4" cy="237.8" r="0.9"/><circle cx="701" cy="238.3" r="0.8"/><circle cx="698.6" cy="234" r="0.6"/><circle cx="670.3" cy="236.6" r="1.1"/><circle cx="672.6" cy="235.2" r="0.8"/><circle cx="671.8" cy="238.6" r="0.7"/></g><path d="M693 219 L696 225 M698 222 L695 228 M697 228 L700 232 M692 232 L696 233 M674 236 L677 234" stroke="#a8a3b5" stroke-width="0.5" fill="none"/><path d="M665.5 219.5 L681.3 194.4 A6.3 6.3 0 0 1 692.6 200.2 L681.4 223.8 C679.5 227.5 675 232 667 234.9 L658 230 Z" fill="#4a4259"/><path d="M666.2 218.4 L681.3 194.4 A6.3 6.3 0 0 1 692.6 200.2 L681.4 223.8 L680 226.3" fill="none" stroke="#fff" stroke-width="0.9"/>
<path d="M817.7 306.7 C822 306.8 833 308.5 841 312 C846 314 849.5 316 849.2 317.5 C849 320 846.5 321.5 845.5 322.8 C843.5 325.5 843.5 327 844.7 328.7 C846 330.5 848 331.5 850 332.2 C856 334 862 335 867 337.5 C873 340.5 876.5 342 875.5 343.8 C873 347.5 862 349 850 349.6 C838 350.2 824 349.6 812 347.8 C804 346.6 800.8 345.3 801.2 344 C802 342 808 341.6 812.5 341.2 C822 340.4 832 339.3 838.5 337.5 C842.5 336.4 843.6 335.4 841 333.2 C837 330 831.5 329.5 830 327.5 C828 325 828 323.2 831 322.7 C835 322.2 838.5 321.8 837.2 319.8 C834.5 316 826 312.5 823 311.2 C819.5 309.5 816 307 817.7 306.7 Z" fill="#4a4259"/><ellipse cx="754" cy="318" rx="9.4" ry="4" fill="#4a4259"/><ellipse cx="778.3" cy="336.3" rx="12.3" ry="5" fill="#4a4259"/><path d="M777.2 288 C772 289 767 296 766 303 C765.5 308 768 314 775 319.5 C782 325 795 331 805 333.7 C811 335 816.5 332 817.7 327 C818.5 323 815 318 809.5 315 C805 312.5 800 311.5 797.5 311.2 L790 298 Z" fill="#4a4259"/><path d="M836 291.5 L880 320.5" stroke="#4a4259" stroke-width="16" stroke-linecap="round"/><path d="M789 250 C788 272 796 291 806 298 L812 298.5 C817 293 821.5 287 824 279 C822.4 274 822.2 268 823.5 260 L815 250 Z" fill="#4a4259" stroke="#fff" stroke-width="0.8"/><path d="M799.3 243.5 C781.3 251 779 275 787.6 292 L799.2 304" fill="none" stroke="#fff" stroke-width="15.4" stroke-linecap="round"/><path d="M799.3 243.5 C781.3 251 779 275 787.6 292 L799.2 304" fill="none" stroke="#4a4259" stroke-width="13.4" stroke-linecap="round"/><path d="M823.8 247.5 C837.8 257.5 837.6 277 827.6 289.5 L820.2 297" fill="none" stroke="#fff" stroke-width="14.8" stroke-linecap="round"/><path d="M823.8 247.5 C837.8 257.5 837.6 277 827.6 289.5 L820.2 297" fill="none" stroke="#4a4259" stroke-width="12.8" stroke-linecap="round"/><circle cx="808.9" cy="253.3" r="18.3" fill="#4a4259" stroke="#fff" stroke-width="1.2"/>
<path d="M912.2 195.5 H952 C954.5 195.5 955.6 197 955.6 199 V341.55 a10.75 10.75 0 0 1 -21.50 0 V266 H930.7 V341.50 a10.80 10.80 0 0 1 -21.60 0 V261 C907.5 260.5 905.5 260 903 257 C897 248 893.4 238 893.6 228.4 C893.8 219 896 213 898.2 210.2 C901.5 203 905.5 195.5 912.2 195.5 Z" fill="#4a4259"/><path d="M909.4 221.4 C907 231 908.5 240 914 245.5 C919 250 923.5 252.5 922 257.5 C921 261 917.5 262.5 913 262" fill="none" stroke="#fff" stroke-width="1.15"/><path d="M951 204 L971 186.3" stroke="#4a4259" stroke-width="14" stroke-linecap="round"/><circle cx="932" cy="178.1" r="20.2" fill="#fff"/><clipPath id="c5"><rect x="900" y="150" width="100" height="45.4"/></clipPath><path d="M951 204 L971 186.3" stroke="#4a4259" stroke-width="14" stroke-linecap="round" clip-path="url(#c5)"/><circle cx="932" cy="178.1" r="19" fill="#4a4259"/><path d="M936 170.6 Q958 173 971 186.3" fill="none" stroke="#fff" stroke-width="15.6" stroke-linecap="round"/><path d="M936 170.6 Q958 173 971 186.3 L966 190.7" fill="none" stroke="#4a4259" stroke-width="14" stroke-linecap="round" stroke-linejoin="round"/><circle cx="937.7" cy="229.3" r="6.0" fill="#fff"/><path d="M943.05 228.55 L948.00 227.85" stroke="#fff" stroke-width="1.15"/><circle cx="948.00" cy="227.85" r="1.8" fill="#fff"/><path d="M942.01 232.55 L946.01 235.56" stroke="#fff" stroke-width="1.15"/><circle cx="946.01" cy="235.56" r="1.8" fill="#fff"/><path d="M938.45 234.65 L939.15 239.60" stroke="#fff" stroke-width="1.15"/><circle cx="939.15" cy="239.60" r="1.8" fill="#fff"/><path d="M934.45 233.61 L931.44 237.61" stroke="#fff" stroke-width="1.15"/><circle cx="931.44" cy="237.61" r="1.8" fill="#fff"/><path d="M932.35 230.05 L927.40 230.75" stroke="#fff" stroke-width="1.15"/><circle cx="927.40" cy="230.75" r="1.8" fill="#fff"/><path d="M933.39 226.05 L929.39 223.04" stroke="#fff" stroke-width="1.15"/><circle cx="929.39" cy="223.04" r="1.8" fill="#fff"/><path d="M936.95 223.95 L936.25 219.00" stroke="#fff" stroke-width="1.15"/><circle cx="936.25" cy="219.00" r="1.8" fill="#fff"/><path d="M940.95 224.99 L943.96 220.99" stroke="#fff" stroke-width="1.15"/><circle cx="943.96" cy="220.99" r="1.8" fill="#fff"/><circle cx="928.1" cy="220.9" r="7.8" fill="#fff"/><path d="M928.10 213.88 L928.10 208.60" stroke="#fff" stroke-width="1.15"/><circle cx="928.10" cy="208.60" r="1.95" fill="#fff"/><path d="M933.06 215.94 L936.80 212.20" stroke="#fff" stroke-width="1.15"/><circle cx="936.80" cy="212.20" r="1.95" fill="#fff"/><path d="M935.12 220.90 L940.40 220.90" stroke="#fff" stroke-width="1.15"/><circle cx="940.40" cy="220.90" r="1.95" fill="#fff"/><path d="M933.06 225.86 L936.80 229.60" stroke="#fff" stroke-width="1.15"/><circle cx="936.80" cy="229.60" r="1.95" fill="#fff"/><path d="M928.10 227.92 L928.10 233.20" stroke="#fff" stroke-width="1.15"/><circle cx="928.10" cy="233.20" r="1.95" fill="#fff"/><path d="M923.14 225.86 L919.40 229.60" stroke="#fff" stroke-width="1.15"/><circle cx="919.40" cy="229.60" r="1.95" fill="#fff"/><path d="M921.08 220.90 L915.80 220.90" stroke="#fff" stroke-width="1.15"/><circle cx="915.80" cy="220.90" r="1.95" fill="#fff"/><path d="M923.14 215.94 L919.40 212.20" stroke="#fff" stroke-width="1.15"/><circle cx="919.40" cy="212.20" r="1.95" fill="#fff"/><g fill="#4a4259"><circle cx="923.6" cy="221.2" r="1.0"/><circle cx="932.6" cy="221.2" r="1.5"/><circle cx="927.5" cy="216.9" r="1.0"/><circle cx="928.6" cy="225.4" r="1.0"/></g><path d="M930.5 229 C932 226.5 934.5 228 934 230.5 C933.6 233 936.5 233.5 938 231.5 C939.5 229.5 942 230.5 941 227.5 C940 225 937 225.5 936.5 223.5 M933 234 C935 235.5 938 235 939.5 233.5" fill="none" stroke="#4a4259" stroke-width="0.8"/><rect x="947.7" y="208.29999999999998" width="2.8" height="2.8" rx="0.5" fill="#fff"/><rect x="943.5" y="205.9" width="2.2" height="2.2" rx="0.5" fill="#fff"/><rect x="941.6999999999999" y="207.4" width="2.2" height="2.2" rx="0.5" fill="#fff"/><rect x="939.9" y="209.8" width="2.2" height="2.2" rx="0.5" fill="#fff"/><rect x="945.1999999999999" y="214.5" width="2.4" height="2.4" rx="0.5" fill="#fff"/><rect x="947.0" y="214.8" width="2.4" height="2.4" rx="0.5" fill="#fff"/><rect x="943.0" y="217.7" width="2.6" height="2.6" rx="0.5" fill="#fff"/><rect x="917.4" y="234.1" width="2.2" height="2.2" rx="0.5" fill="#fff"/><rect x="915.6" y="235.9" width="2.2" height="2.2" rx="0.5" fill="#fff"/><rect x="913.6999999999999" y="237.60000000000002" width="2.4" height="2.4" rx="0.5" fill="#fff"/><rect x="921.0" y="239.79999999999998" width="2.8" height="2.8" rx="0.5" fill="#fff"/><path d="M955.4 208.4 C959 206.2 964 203.2 968 197.8 L960 195 L955.4 200 Z" fill="#4a4259"/>
<path d="M22.40 968.00 L23.55 978.03 L29.68 973.52 L25.17 979.65 L35.20 980.80 L25.17 981.95 L29.68 988.08 L23.55 983.57 L22.40 993.60 L21.25 983.57 L15.12 988.08 L19.63 981.95 L9.60 980.80 L19.63 979.65 L15.12 973.52 L21.25 978.03 Z" fill="#3a3a3a"/><circle cx="22.4" cy="980.8" r="4.8" fill="#4a4a4a"/><circle cx="22.4" cy="980.8" r="3.2" fill="#8a8a8a"/><circle cx="22.4" cy="980.8" r="1.6" fill="#555"/>
<path d="M25.5 136.5 H33.43 V144.6 H25.5 Z M43.47 136.5 H51 V144.6 H43.47 Z" fill="#fff"/>
<path d="M695.4 55.5 H704.4 V62.6 H695.4 Z M713.82 55.5 H722.2 V62.6 H713.82 Z" fill="#500000"/>
<path d="M642 448.6 H648.64 V454.6 H642 Z M654.78 448.6 H660.6 V454.6 H654.78 Z M726.4 448.6 H732.64 V454.6 H726.4 Z M738.78 448.6 H745 V454.6 H738.78 Z" fill="#fff"/>
</svg>
</body></html>
